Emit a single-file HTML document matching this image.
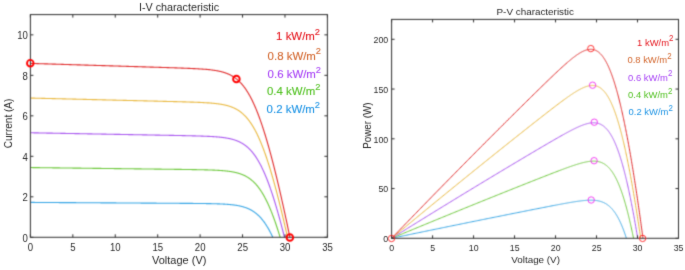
<!DOCTYPE html>
<html><head><meta charset="utf-8"><style>
html,body{margin:0;padding:0;background:#fff;width:685px;height:270px;overflow:hidden}
svg{display:block;font-family:"Liberation Sans",sans-serif}
</style></head><body>
<svg width="685" height="270" viewBox="0 0 685 270">
<defs><filter id="bl" x="0" y="0" width="1" height="1" color-interpolation-filters="sRGB"><feConvolveMatrix order="3" kernelMatrix="0.02778 0.11111 0.02778 0.11111 0.44444 0.11111 0.02778 0.11111 0.02778" edgeMode="duplicate" preserveAlpha="true"/></filter><filter id="bt" x="0" y="0" width="685" height="270" filterUnits="userSpaceOnUse" color-interpolation-filters="sRGB"><feConvolveMatrix order="3" kernelMatrix="0.00937 0.07804 0.00937 0.07804 0.65036 0.07804 0.00937 0.07804 0.00937" edgeMode="none" preserveAlpha="false"/></filter></defs>
<g filter="url(#bl)">
<rect width="685" height="270" fill="#fff"/>
<path d="M30.40,202.40 L31.62,202.40 L32.84,202.41 L34.05,202.42 L35.27,202.43 L36.49,202.43 L37.71,202.44 L38.93,202.45 L40.14,202.46 L41.36,202.46 L42.58,202.47 L43.80,202.48 L45.02,202.49 L46.23,202.49 L47.45,202.50 L48.67,202.51 L49.89,202.52 L51.11,202.52 L52.32,202.53 L53.54,202.54 L54.76,202.55 L55.98,202.55 L57.20,202.56 L58.41,202.57 L59.63,202.58 L60.85,202.58 L62.07,202.59 L63.29,202.60 L64.50,202.61 L65.72,202.61 L66.94,202.62 L68.16,202.63 L69.38,202.64 L70.59,202.64 L71.81,202.65 L73.03,202.66 L74.25,202.67 L75.47,202.67 L76.68,202.68 L77.90,202.69 L79.12,202.70 L80.34,202.70 L81.56,202.71 L82.77,202.72 L83.99,202.73 L85.21,202.73 L86.43,202.74 L87.65,202.75 L88.86,202.76 L90.08,202.76 L91.30,202.77 L92.52,202.78 L93.74,202.79 L94.95,202.79 L96.17,202.80 L97.39,202.81 L98.61,202.82 L99.83,202.82 L101.04,202.83 L102.26,202.84 L103.48,202.85 L104.70,202.85 L105.92,202.86 L107.13,202.87 L108.35,202.88 L109.57,202.88 L110.79,202.89 L112.01,202.90 L113.22,202.91 L114.44,202.91 L115.66,202.92 L116.88,202.93 L118.10,202.94 L119.31,202.94 L120.53,202.95 L121.75,202.96 L122.97,202.97 L124.19,202.97 L125.40,202.98 L126.62,202.99 L127.84,203.00 L129.06,203.00 L130.28,203.01 L131.49,203.02 L132.71,203.03 L133.93,203.03 L135.15,203.04 L136.37,203.05 L137.58,203.06 L138.80,203.06 L140.02,203.07 L141.24,203.08 L142.46,203.09 L143.67,203.09 L144.89,203.10 L146.11,203.11 L147.33,203.12 L148.55,203.12 L149.76,203.13 L150.98,203.14 L152.20,203.15 L153.42,203.15 L154.64,203.16 L155.85,203.17 L157.07,203.18 L158.29,203.18 L159.51,203.19 L160.72,203.20 L161.94,203.21 L163.16,203.22 L164.38,203.22 L165.60,203.23 L166.81,203.24 L168.03,203.25 L169.25,203.25 L170.47,203.26 L171.69,203.27 L172.90,203.28 L174.12,203.29 L175.34,203.29 L176.56,203.30 L177.78,203.31 L178.99,203.32 L180.21,203.33 L181.43,203.34 L182.65,203.34 L183.87,203.35 L185.08,203.36 L186.30,203.37 L187.52,203.38 L188.74,203.39 L189.96,203.40 L191.17,203.41 L192.39,203.42 L193.61,203.43 L194.83,203.44 L196.05,203.45 L197.26,203.47 L198.48,203.48 L199.70,203.49 L200.07,203.50 L200.31,203.50 L200.55,203.50 L200.80,203.51 L200.92,203.51 L201.04,203.51 L201.28,203.51 L201.53,203.51 L201.77,203.52 L202.01,203.52 L202.14,203.52 L202.25,203.52 L202.50,203.53 L202.74,203.53 L202.98,203.53 L203.23,203.54 L203.35,203.54 L203.47,203.54 L203.71,203.54 L203.96,203.55 L204.20,203.55 L204.44,203.55 L204.57,203.56 L204.69,203.56 L204.93,203.56 L205.17,203.56 L205.42,203.57 L205.66,203.57 L205.79,203.57 L205.90,203.57 L206.15,203.58 L206.39,203.58 L206.63,203.59 L206.88,203.59 L207.01,203.59 L207.12,203.59 L207.36,203.60 L207.60,203.60 L207.85,203.61 L208.09,203.61 L208.23,203.61 L208.33,203.61 L208.58,203.62 L208.82,203.62 L209.06,203.63 L209.31,203.63 L209.44,203.64 L209.55,203.64 L209.79,203.64 L210.04,203.65 L210.28,203.65 L210.52,203.66 L210.66,203.66 L210.77,203.66 L211.01,203.67 L211.25,203.67 L211.50,203.68 L211.74,203.68 L211.88,203.69 L211.98,203.69 L212.23,203.69 L212.47,203.70 L212.71,203.70 L212.96,203.71 L213.10,203.71 L213.20,203.72 L213.44,203.72 L213.68,203.73 L213.93,203.73 L214.17,203.74 L214.32,203.74 L214.41,203.75 L214.66,203.75 L214.90,203.76 L215.14,203.77 L215.39,203.77 L215.53,203.78 L215.63,203.78 L215.87,203.79 L216.12,203.80 L216.36,203.80 L216.60,203.81 L216.75,203.81 L216.85,203.82 L217.09,203.83 L217.33,203.83 L217.58,203.84 L217.82,203.85 L217.97,203.86 L218.06,203.86 L218.31,203.87 L218.55,203.88 L218.79,203.88 L219.03,203.89 L219.19,203.90 L219.28,203.90 L219.52,203.91 L219.76,203.92 L220.01,203.93 L220.25,203.94 L220.41,203.95 L220.49,203.95 L220.74,203.96 L220.98,203.97 L221.22,203.98 L221.47,203.99 L221.62,204.00 L221.71,204.01 L221.95,204.02 L222.20,204.03 L222.44,204.04 L222.68,204.05 L222.84,204.06 L222.93,204.06 L223.17,204.08 L223.41,204.09 L223.66,204.10 L223.90,204.12 L224.06,204.13 L224.14,204.13 L224.39,204.14 L224.63,204.16 L224.87,204.17 L225.11,204.19 L225.28,204.20 L225.36,204.20 L225.60,204.22 L225.84,204.23 L226.09,204.25 L226.33,204.27 L226.50,204.28 L226.57,204.28 L226.82,204.30 L227.06,204.32 L227.30,204.34 L227.55,204.35 L227.71,204.37 L227.79,204.37 L228.03,204.39 L228.28,204.41 L228.52,204.43 L228.76,204.45 L228.93,204.46 L229.01,204.47 L229.25,204.49 L229.49,204.51 L229.74,204.53 L229.98,204.56 L230.15,204.57 L230.22,204.58 L230.46,204.60 L230.71,204.63 L230.95,204.65 L231.19,204.68 L231.37,204.69 L231.44,204.70 L231.68,204.73 L231.92,204.75 L232.17,204.78 L232.41,204.81 L232.59,204.83 L232.65,204.83 L232.90,204.86 L233.14,204.89 L233.38,204.92 L233.63,204.95 L233.80,204.98 L233.87,204.98 L234.11,205.02 L234.36,205.05 L234.60,205.08 L234.84,205.12 L235.02,205.14 L235.09,205.15 L235.33,205.19 L235.57,205.22 L235.82,205.26 L236.06,205.30 L236.24,205.32 L236.30,205.33 L236.54,205.37 L236.79,205.41 L237.03,205.45 L237.27,205.50 L237.46,205.53 L237.52,205.54 L237.76,205.58 L238.00,205.63 L238.25,205.67 L238.49,205.72 L238.68,205.75 L238.73,205.77 L238.98,205.81 L239.22,205.86 L239.46,205.91 L239.71,205.96 L239.89,206.01 L239.95,206.02 L240.19,206.07 L240.44,206.13 L240.68,206.18 L240.92,206.24 L241.11,206.28 L241.17,206.30 L241.41,206.36 L241.65,206.42 L241.89,206.48 L242.14,206.54 L242.33,206.59 L242.38,206.61 L242.62,206.67 L242.87,206.74 L243.11,206.81 L243.35,206.88 L243.55,206.94 L243.60,206.95 L243.84,207.02 L244.08,207.10 L244.33,207.17 L244.57,207.25 L244.77,207.32 L244.81,207.33 L245.06,207.41 L245.30,207.50 L245.54,207.58 L245.79,207.67 L245.98,207.74 L246.03,207.75 L246.27,207.84 L246.52,207.93 L246.76,208.03 L247.00,208.12 L247.20,208.20 L247.25,208.22 L247.49,208.32 L247.73,208.42 L247.97,208.52 L248.22,208.63 L248.42,208.72 L248.46,208.74 L248.70,208.85 L248.95,208.96 L249.19,209.07 L249.43,209.19 L249.64,209.29 L249.68,209.31 L249.92,209.43 L250.16,209.55 L250.41,209.67 L250.65,209.80 L250.86,209.91 L250.89,209.93 L251.14,210.07 L251.38,210.20 L251.62,210.34 L251.87,210.48 L252.07,210.60 L252.11,210.62 L252.35,210.77 L252.60,210.92 L252.84,211.07 L253.08,211.23 L253.29,211.36 L253.32,211.38 L253.57,211.54 L253.81,211.71 L254.05,211.87 L254.30,212.04 L254.51,212.20 L254.54,212.22 L254.78,212.39 L255.03,212.57 L255.27,212.76 L255.51,212.94 L255.73,213.11 L255.76,213.13 L256.00,213.32 L256.24,213.52 L256.49,213.72 L256.73,213.92 L256.95,214.11 L256.97,214.13 L257.22,214.34 L257.46,214.55 L257.70,214.77 L257.95,214.99 L258.16,215.20 L258.19,215.22 L258.43,215.45 L258.68,215.68 L258.92,215.92 L259.16,216.16 L259.38,216.38 L259.40,216.40 L259.65,216.65 L259.89,216.91 L260.13,217.17 L260.38,217.43 L260.60,217.67 L260.62,217.69 L260.86,217.96 L261.11,218.24 L261.35,218.52 L261.59,218.80 L261.82,219.07 L261.84,219.09 L262.08,219.38 L262.32,219.68 L262.57,219.98 L262.81,220.29 L263.04,220.58 L263.05,220.60 L263.30,220.92 L263.54,221.24 L263.78,221.56 L264.03,221.89 L264.25,222.21 L264.27,222.23 L264.51,222.57 L264.75,222.92 L265.00,223.27 L265.24,223.62 L265.47,223.96 L265.48,223.98 L265.73,224.35 L265.97,224.72 L266.21,225.10 L266.46,225.48 L266.69,225.85 L266.70,225.86 L266.94,226.26 L267.19,226.65 L267.43,227.05 L267.67,227.46 L267.91,227.86 L267.92,227.88 L268.16,228.29 L268.40,228.72 L268.65,229.15 L268.89,229.58 L269.13,230.01 L269.13,230.02 L269.38,230.47 L269.62,230.92 L269.86,231.38 L270.11,231.84 L270.34,232.30 L270.35,232.31 L270.59,232.78 L270.83,233.26 L271.08,233.75 L271.32,234.24 L271.56,234.73 L271.56,234.73 L271.81,235.23 L272.05,235.74 L272.29,236.26 L272.54,236.78 L272.78,237.30" fill="none" stroke="#35a5e5" stroke-width="1.1"/>
<path d="M30.40,167.56 L31.66,167.57 L32.91,167.59 L34.17,167.60 L35.42,167.62 L36.68,167.63 L37.93,167.65 L39.19,167.66 L40.44,167.68 L41.70,167.69 L42.95,167.71 L44.21,167.73 L45.46,167.74 L46.72,167.76 L47.97,167.77 L49.23,167.79 L50.48,167.80 L51.74,167.82 L52.99,167.83 L54.25,167.85 L55.50,167.86 L56.76,167.88 L58.01,167.89 L59.27,167.91 L60.52,167.93 L61.78,167.94 L63.03,167.96 L64.29,167.97 L65.54,167.99 L66.80,168.00 L68.05,168.02 L69.31,168.03 L70.56,168.05 L71.82,168.06 L73.07,168.08 L74.33,168.10 L75.58,168.11 L76.84,168.13 L78.09,168.14 L79.35,168.16 L80.60,168.17 L81.86,168.19 L83.11,168.20 L84.37,168.22 L85.62,168.23 L86.88,168.25 L88.13,168.26 L89.39,168.28 L90.64,168.30 L91.90,168.31 L93.15,168.33 L94.41,168.34 L95.66,168.36 L96.92,168.37 L98.17,168.39 L99.43,168.40 L100.68,168.42 L101.94,168.43 L103.19,168.45 L104.45,168.47 L105.70,168.48 L106.96,168.50 L108.21,168.51 L109.47,168.53 L110.72,168.54 L111.98,168.56 L113.23,168.57 L114.49,168.59 L115.74,168.60 L117.00,168.62 L118.25,168.64 L119.51,168.65 L120.76,168.67 L122.02,168.68 L123.27,168.70 L124.53,168.71 L125.78,168.73 L127.04,168.74 L128.29,168.76 L129.55,168.77 L130.80,168.79 L132.06,168.80 L133.31,168.82 L134.57,168.84 L135.82,168.85 L137.08,168.87 L138.33,168.88 L139.59,168.90 L140.84,168.91 L142.10,168.93 L143.35,168.94 L144.61,168.96 L145.86,168.97 L147.12,168.99 L148.37,169.01 L149.63,169.02 L150.88,169.04 L152.14,169.05 L153.39,169.07 L154.65,169.08 L155.90,169.10 L157.16,169.11 L158.41,169.13 L159.67,169.15 L160.92,169.16 L162.18,169.18 L163.43,169.19 L164.69,169.21 L165.94,169.22 L167.20,169.24 L168.45,169.26 L169.71,169.27 L170.96,169.29 L172.22,169.30 L173.47,169.32 L174.73,169.34 L175.98,169.35 L177.24,169.37 L178.49,169.39 L179.75,169.40 L181.00,169.42 L182.26,169.44 L183.51,169.46 L184.77,169.47 L186.02,169.49 L187.28,169.51 L188.53,169.53 L189.79,169.55 L191.04,169.57 L192.30,169.59 L193.55,169.61 L194.81,169.63 L196.06,169.65 L197.32,169.68 L198.57,169.70 L199.83,169.72 L201.08,169.75 L202.34,169.78 L203.59,169.81 L204.85,169.84 L205.22,169.85 L205.47,169.86 L205.73,169.86 L205.98,169.87 L206.10,169.87 L206.23,169.88 L206.48,169.88 L206.73,169.89 L206.98,169.90 L207.23,169.90 L207.36,169.91 L207.48,169.91 L207.73,169.92 L207.98,169.93 L208.23,169.93 L208.48,169.94 L208.61,169.94 L208.73,169.95 L208.98,169.96 L209.23,169.96 L209.48,169.97 L209.73,169.98 L209.87,169.98 L209.99,169.99 L210.24,170.00 L210.49,170.01 L210.74,170.01 L210.99,170.02 L211.12,170.03 L211.24,170.03 L211.49,170.04 L211.74,170.05 L211.99,170.06 L212.24,170.07 L212.38,170.07 L212.49,170.08 L212.74,170.09 L212.99,170.10 L213.24,170.11 L213.49,170.12 L213.63,170.13 L213.74,170.13 L213.99,170.14 L214.25,170.15 L214.50,170.16 L214.75,170.17 L214.89,170.18 L215.00,170.19 L215.25,170.20 L215.50,170.21 L215.75,170.22 L216.00,170.23 L216.14,170.24 L216.25,170.25 L216.50,170.26 L216.75,170.27 L217.00,170.28 L217.25,170.30 L217.40,170.31 L217.50,170.31 L217.75,170.33 L218.00,170.34 L218.25,170.35 L218.51,170.37 L218.65,170.38 L218.76,170.38 L219.01,170.40 L219.26,170.41 L219.51,170.43 L219.76,170.45 L219.91,170.46 L220.01,170.46 L220.26,170.48 L220.51,170.50 L220.76,170.51 L221.01,170.53 L221.16,170.54 L221.26,170.55 L221.51,170.57 L221.76,170.59 L222.01,170.61 L222.26,170.62 L222.42,170.64 L222.51,170.64 L222.76,170.66 L223.02,170.69 L223.27,170.71 L223.52,170.73 L223.67,170.74 L223.77,170.75 L224.02,170.77 L224.27,170.79 L224.52,170.82 L224.77,170.84 L224.93,170.86 L225.02,170.87 L225.27,170.89 L225.52,170.92 L225.77,170.94 L226.02,170.97 L226.18,170.98 L226.27,170.99 L226.52,171.02 L226.77,171.05 L227.02,171.08 L227.28,171.11 L227.44,171.13 L227.53,171.14 L227.78,171.17 L228.03,171.20 L228.28,171.23 L228.53,171.26 L228.69,171.28 L228.78,171.29 L229.03,171.33 L229.28,171.36 L229.53,171.40 L229.78,171.43 L229.95,171.46 L230.03,171.47 L230.28,171.51 L230.53,171.54 L230.78,171.58 L231.03,171.62 L231.20,171.65 L231.28,171.66 L231.54,171.70 L231.79,171.74 L232.04,171.79 L232.29,171.83 L232.46,171.86 L232.54,171.88 L232.79,171.92 L233.04,171.97 L233.29,172.02 L233.54,172.06 L233.71,172.10 L233.79,172.11 L234.04,172.16 L234.29,172.22 L234.54,172.27 L234.79,172.32 L234.97,172.36 L235.04,172.38 L235.29,172.43 L235.54,172.49 L235.80,172.55 L236.05,172.61 L236.22,172.65 L236.30,172.67 L236.55,172.73 L236.80,172.80 L237.05,172.86 L237.30,172.93 L237.48,172.98 L237.55,173.00 L237.80,173.07 L238.05,173.14 L238.30,173.21 L238.55,173.28 L238.73,173.34 L238.80,173.36 L239.05,173.44 L239.30,173.51 L239.55,173.59 L239.80,173.68 L239.99,173.74 L240.06,173.76 L240.31,173.84 L240.56,173.93 L240.81,174.02 L241.06,174.11 L241.24,174.18 L241.31,174.20 L241.56,174.30 L241.81,174.39 L242.06,174.49 L242.31,174.59 L242.50,174.67 L242.56,174.69 L242.81,174.80 L243.06,174.91 L243.31,175.01 L243.56,175.13 L243.75,175.21 L243.81,175.24 L244.06,175.35 L244.32,175.47 L244.57,175.59 L244.82,175.71 L245.01,175.81 L245.07,175.84 L245.32,175.97 L245.57,176.10 L245.82,176.23 L246.07,176.37 L246.26,176.47 L246.32,176.50 L246.57,176.64 L246.82,176.79 L247.07,176.93 L247.32,177.08 L247.52,177.20 L247.57,177.24 L247.82,177.39 L248.07,177.55 L248.32,177.71 L248.58,177.87 L248.77,178.01 L248.83,178.04 L249.08,178.21 L249.33,178.39 L249.58,178.56 L249.83,178.74 L250.03,178.89 L250.08,178.93 L250.33,179.11 L250.58,179.31 L250.83,179.50 L251.08,179.70 L251.28,179.86 L251.33,179.90 L251.58,180.10 L251.83,180.31 L252.08,180.53 L252.33,180.74 L252.54,180.92 L252.58,180.96 L252.84,181.19 L253.09,181.42 L253.34,181.65 L253.59,181.88 L253.79,182.08 L253.84,182.13 L254.09,182.37 L254.34,182.62 L254.59,182.87 L254.84,183.13 L255.05,183.35 L255.09,183.39 L255.34,183.66 L255.59,183.93 L255.84,184.21 L256.09,184.49 L256.30,184.73 L256.34,184.77 L256.59,185.06 L256.84,185.35 L257.09,185.65 L257.35,185.96 L257.56,186.22 L257.60,186.27 L257.85,186.58 L258.10,186.90 L258.35,187.22 L258.60,187.55 L258.81,187.84 L258.85,187.88 L259.10,188.22 L259.35,188.57 L259.60,188.92 L259.85,189.27 L260.07,189.58 L260.10,189.63 L260.35,189.99 L260.60,190.37 L260.85,190.74 L261.10,191.12 L261.32,191.46 L261.35,191.51 L261.61,191.90 L261.86,192.30 L262.11,192.70 L262.36,193.11 L262.58,193.48 L262.61,193.53 L262.86,193.95 L263.11,194.37 L263.36,194.80 L263.61,195.24 L263.83,195.64 L263.86,195.68 L264.11,196.13 L264.36,196.59 L264.61,197.05 L264.86,197.52 L265.09,197.94 L265.11,197.99 L265.36,198.47 L265.61,198.95 L265.87,199.44 L266.12,199.94 L266.34,200.39 L266.37,200.44 L266.62,200.95 L266.87,201.46 L267.12,201.98 L267.37,202.51 L267.60,203.00 L267.62,203.04 L267.87,203.58 L268.12,204.12 L268.37,204.67 L268.62,205.23 L268.85,205.75 L268.87,205.79 L269.12,206.36 L269.37,206.94 L269.62,207.52 L269.87,208.10 L270.11,208.66 L270.13,208.70 L270.38,209.30 L270.63,209.90 L270.88,210.51 L271.13,211.13 L271.36,211.72 L271.38,211.75 L271.63,212.38 L271.88,213.02 L272.13,213.66 L272.38,214.31 L272.62,214.93 L272.63,214.96 L272.88,215.62 L273.13,216.29 L273.38,216.96 L273.63,217.64 L273.87,218.29 L273.88,218.32 L274.13,219.01 L274.39,219.71 L274.64,220.41 L274.89,221.11 L275.13,221.80 L275.14,221.83 L275.39,222.55 L275.64,223.27 L275.89,224.00 L276.14,224.74 L276.38,225.46 L276.39,225.48 L276.64,226.23 L276.89,226.98 L277.14,227.74 L277.39,228.51 L277.64,229.27 L277.64,229.28 L277.89,230.06 L278.14,230.84 L278.39,231.63 L278.65,232.42 L278.89,233.21 L278.90,233.22 L279.15,234.03 L279.40,234.84 L279.65,235.65 L279.90,236.47 L280.15,237.30" fill="none" stroke="#6cc83a" stroke-width="1.1"/>
<path d="M30.40,132.78 L31.68,132.80 L32.95,132.82 L34.23,132.85 L35.51,132.87 L36.78,132.89 L38.06,132.92 L39.34,132.94 L40.61,132.96 L41.89,132.99 L43.17,133.01 L44.44,133.03 L45.72,133.06 L47.00,133.08 L48.27,133.10 L49.55,133.13 L50.83,133.15 L52.10,133.17 L53.38,133.20 L54.66,133.22 L55.93,133.25 L57.21,133.27 L58.49,133.29 L59.76,133.32 L61.04,133.34 L62.32,133.36 L63.59,133.39 L64.87,133.41 L66.15,133.43 L67.42,133.46 L68.70,133.48 L69.98,133.50 L71.25,133.53 L72.53,133.55 L73.81,133.57 L75.08,133.60 L76.36,133.62 L77.64,133.65 L78.91,133.67 L80.19,133.69 L81.47,133.72 L82.74,133.74 L84.02,133.76 L85.30,133.79 L86.57,133.81 L87.85,133.83 L89.13,133.86 L90.40,133.88 L91.68,133.90 L92.96,133.93 L94.23,133.95 L95.51,133.97 L96.79,134.00 L98.06,134.02 L99.34,134.04 L100.62,134.07 L101.89,134.09 L103.17,134.12 L104.45,134.14 L105.72,134.16 L107.00,134.19 L108.28,134.21 L109.55,134.23 L110.83,134.26 L112.11,134.28 L113.38,134.30 L114.66,134.33 L115.94,134.35 L117.21,134.37 L118.49,134.40 L119.77,134.42 L121.04,134.44 L122.32,134.47 L123.60,134.49 L124.87,134.51 L126.15,134.54 L127.43,134.56 L128.70,134.59 L129.98,134.61 L131.26,134.63 L132.53,134.66 L133.81,134.68 L135.09,134.70 L136.36,134.73 L137.64,134.75 L138.92,134.77 L140.19,134.80 L141.47,134.82 L142.75,134.84 L144.02,134.87 L145.30,134.89 L146.58,134.92 L147.85,134.94 L149.13,134.96 L150.41,134.99 L151.68,135.01 L152.96,135.03 L154.24,135.06 L155.51,135.08 L156.79,135.10 L158.07,135.13 L159.34,135.15 L160.62,135.18 L161.90,135.20 L163.17,135.22 L164.45,135.25 L165.73,135.27 L167.00,135.30 L168.28,135.32 L169.56,135.35 L170.83,135.37 L172.11,135.39 L173.39,135.42 L174.66,135.44 L175.94,135.47 L177.22,135.50 L178.49,135.52 L179.77,135.55 L181.05,135.57 L182.32,135.60 L183.60,135.63 L184.88,135.65 L186.15,135.68 L187.43,135.71 L188.71,135.74 L189.98,135.77 L191.26,135.80 L192.54,135.83 L193.81,135.86 L195.09,135.90 L196.37,135.93 L197.64,135.97 L198.92,136.00 L200.20,136.04 L201.47,136.09 L202.75,136.13 L204.03,136.18 L205.30,136.23 L206.58,136.28 L207.86,136.33 L208.24,136.35 L208.50,136.36 L208.75,136.38 L209.01,136.39 L209.13,136.39 L209.26,136.40 L209.52,136.41 L209.77,136.43 L210.03,136.44 L210.28,136.45 L210.41,136.46 L210.54,136.47 L210.79,136.48 L211.05,136.49 L211.30,136.51 L211.56,136.52 L211.69,136.53 L211.81,136.54 L212.06,136.55 L212.32,136.57 L212.57,136.58 L212.83,136.60 L212.97,136.61 L213.08,136.61 L213.34,136.63 L213.59,136.65 L213.85,136.66 L214.10,136.68 L214.24,136.69 L214.36,136.70 L214.61,136.71 L214.87,136.73 L215.12,136.75 L215.38,136.77 L215.52,136.78 L215.63,136.79 L215.89,136.81 L216.14,136.83 L216.40,136.85 L216.65,136.87 L216.80,136.88 L216.91,136.89 L217.16,136.91 L217.42,136.93 L217.67,136.95 L217.93,136.97 L218.07,136.98 L218.18,136.99 L218.44,137.02 L218.69,137.04 L218.95,137.06 L219.20,137.09 L219.35,137.10 L219.46,137.11 L219.71,137.14 L219.97,137.16 L220.22,137.19 L220.48,137.22 L220.63,137.23 L220.73,137.24 L220.99,137.27 L221.24,137.30 L221.50,137.33 L221.75,137.36 L221.90,137.38 L222.01,137.39 L222.26,137.42 L222.52,137.45 L222.77,137.48 L223.03,137.51 L223.18,137.53 L223.28,137.55 L223.54,137.58 L223.79,137.61 L224.05,137.65 L224.30,137.69 L224.46,137.71 L224.56,137.72 L224.81,137.76 L225.07,137.80 L225.32,137.84 L225.58,137.88 L225.73,137.90 L225.83,137.92 L226.08,137.96 L226.34,138.00 L226.59,138.04 L226.85,138.09 L227.01,138.11 L227.10,138.13 L227.36,138.18 L227.61,138.22 L227.87,138.27 L228.12,138.32 L228.29,138.35 L228.38,138.37 L228.63,138.42 L228.89,138.47 L229.14,138.52 L229.40,138.58 L229.56,138.61 L229.65,138.63 L229.91,138.69 L230.16,138.74 L230.42,138.80 L230.67,138.86 L230.84,138.90 L230.93,138.92 L231.18,138.99 L231.44,139.05 L231.69,139.11 L231.95,139.18 L232.12,139.22 L232.20,139.25 L232.46,139.32 L232.71,139.39 L232.97,139.46 L233.22,139.53 L233.39,139.58 L233.48,139.61 L233.73,139.68 L233.99,139.76 L234.24,139.84 L234.50,139.92 L234.67,139.98 L234.75,140.00 L235.01,140.09 L235.26,140.17 L235.52,140.26 L235.77,140.35 L235.95,140.41 L236.03,140.44 L236.28,140.54 L236.54,140.63 L236.79,140.73 L237.05,140.83 L237.22,140.90 L237.30,140.93 L237.56,141.04 L237.81,141.14 L238.07,141.25 L238.32,141.36 L238.50,141.44 L238.58,141.47 L238.83,141.59 L239.09,141.71 L239.34,141.83 L239.60,141.95 L239.78,142.03 L239.85,142.07 L240.10,142.20 L240.36,142.33 L240.61,142.46 L240.87,142.59 L241.05,142.69 L241.12,142.73 L241.38,142.87 L241.63,143.02 L241.89,143.16 L242.14,143.31 L242.33,143.42 L242.40,143.46 L242.65,143.62 L242.91,143.77 L243.16,143.93 L243.42,144.10 L243.61,144.22 L243.67,144.27 L243.93,144.44 L244.18,144.61 L244.44,144.79 L244.69,144.97 L244.88,145.10 L244.95,145.15 L245.20,145.34 L245.46,145.53 L245.71,145.72 L245.97,145.92 L246.16,146.07 L246.22,146.12 L246.48,146.33 L246.73,146.53 L246.99,146.75 L247.24,146.96 L247.44,147.13 L247.50,147.19 L247.75,147.41 L248.01,147.64 L248.26,147.87 L248.52,148.11 L248.71,148.29 L248.77,148.35 L249.03,148.60 L249.28,148.85 L249.54,149.10 L249.79,149.36 L249.99,149.56 L250.05,149.62 L250.30,149.89 L250.56,150.16 L250.81,150.44 L251.07,150.72 L251.27,150.94 L251.32,151.01 L251.58,151.30 L251.83,151.59 L252.09,151.90 L252.34,152.20 L252.54,152.45 L252.60,152.51 L252.85,152.83 L253.11,153.15 L253.36,153.47 L253.62,153.81 L253.82,154.07 L253.87,154.14 L254.12,154.48 L254.38,154.83 L254.63,155.18 L254.89,155.54 L255.10,155.83 L255.14,155.90 L255.40,156.27 L255.65,156.65 L255.91,157.03 L256.16,157.41 L256.37,157.73 L256.42,157.80 L256.67,158.20 L256.93,158.60 L257.18,159.01 L257.44,159.42 L257.65,159.77 L257.69,159.84 L257.95,160.27 L258.20,160.70 L258.46,161.14 L258.71,161.58 L258.93,161.95 L258.97,162.03 L259.22,162.49 L259.48,162.95 L259.73,163.41 L259.99,163.89 L260.20,164.29 L260.24,164.37 L260.50,164.85 L260.75,165.34 L261.01,165.84 L261.26,166.34 L261.48,166.78 L261.52,166.85 L261.77,167.37 L262.03,167.89 L262.28,168.42 L262.54,168.96 L262.76,169.42 L262.79,169.50 L263.05,170.04 L263.30,170.60 L263.56,171.16 L263.81,171.72 L264.03,172.22 L264.07,172.30 L264.32,172.88 L264.58,173.46 L264.83,174.05 L265.09,174.65 L265.31,175.18 L265.34,175.25 L265.60,175.86 L265.85,176.48 L266.11,177.10 L266.36,177.73 L266.59,178.29 L266.62,178.37 L266.87,179.01 L267.13,179.65 L267.38,180.31 L267.64,180.97 L267.86,181.56 L267.89,181.64 L268.14,182.31 L268.40,182.99 L268.65,183.67 L268.91,184.36 L269.14,184.99 L269.16,185.06 L269.42,185.76 L269.67,186.47 L269.93,187.19 L270.18,187.91 L270.42,188.57 L270.44,188.64 L270.69,189.37 L270.95,190.11 L271.20,190.86 L271.46,191.61 L271.69,192.31 L271.71,192.37 L271.97,193.13 L272.22,193.90 L272.48,194.68 L272.73,195.46 L272.97,196.19 L272.99,196.25 L273.24,197.04 L273.50,197.84 L273.75,198.65 L274.01,199.46 L274.25,200.22 L274.26,200.28 L274.52,201.10 L274.77,201.93 L275.03,202.76 L275.28,203.60 L275.52,204.39 L275.54,204.44 L275.79,205.30 L276.05,206.15 L276.30,207.01 L276.56,207.88 L276.80,208.71 L276.81,208.75 L277.07,209.63 L277.32,210.51 L277.58,211.40 L277.83,212.30 L278.08,213.16 L278.09,213.20 L278.34,214.10 L278.60,215.01 L278.85,215.92 L279.11,216.84 L279.35,217.74 L279.36,217.77 L279.62,218.70 L279.87,219.64 L280.13,220.58 L280.38,221.52 L280.63,222.45 L280.64,222.47 L280.89,223.43 L281.15,224.39 L281.40,225.35 L281.65,226.32 L281.91,227.28 L281.91,227.30 L282.16,228.28 L282.42,229.26 L282.67,230.25 L282.93,231.24 L283.18,232.23 L283.18,232.24 L283.44,233.24 L283.69,234.25 L283.95,235.26 L284.20,236.28 L284.46,237.30" fill="none" stroke="#a855f0" stroke-width="1.1"/>
<path d="M30.40,98.06 L31.69,98.09 L32.98,98.12 L34.28,98.15 L35.57,98.18 L36.86,98.21 L38.15,98.25 L39.44,98.28 L40.74,98.31 L42.03,98.34 L43.32,98.37 L44.61,98.40 L45.90,98.44 L47.20,98.47 L48.49,98.50 L49.78,98.53 L51.07,98.56 L52.36,98.59 L53.66,98.63 L54.95,98.66 L56.24,98.69 L57.53,98.72 L58.83,98.75 L60.12,98.78 L61.41,98.82 L62.70,98.85 L63.99,98.88 L65.29,98.91 L66.58,98.94 L67.87,98.97 L69.16,99.01 L70.45,99.04 L71.75,99.07 L73.04,99.10 L74.33,99.13 L75.62,99.17 L76.91,99.20 L78.21,99.23 L79.50,99.26 L80.79,99.29 L82.08,99.32 L83.37,99.36 L84.67,99.39 L85.96,99.42 L87.25,99.45 L88.54,99.48 L89.83,99.51 L91.13,99.55 L92.42,99.58 L93.71,99.61 L95.00,99.64 L96.29,99.67 L97.59,99.70 L98.88,99.74 L100.17,99.77 L101.46,99.80 L102.75,99.83 L104.05,99.86 L105.34,99.89 L106.63,99.93 L107.92,99.96 L109.21,99.99 L110.51,100.02 L111.80,100.05 L113.09,100.08 L114.38,100.12 L115.68,100.15 L116.97,100.18 L118.26,100.21 L119.55,100.24 L120.84,100.27 L122.14,100.31 L123.43,100.34 L124.72,100.37 L126.01,100.40 L127.30,100.43 L128.60,100.46 L129.89,100.50 L131.18,100.53 L132.47,100.56 L133.76,100.59 L135.06,100.62 L136.35,100.66 L137.64,100.69 L138.93,100.72 L140.22,100.75 L141.52,100.78 L142.81,100.81 L144.10,100.85 L145.39,100.88 L146.68,100.91 L147.98,100.94 L149.27,100.97 L150.56,101.01 L151.85,101.04 L153.14,101.07 L154.44,101.10 L155.73,101.13 L157.02,101.17 L158.31,101.20 L159.60,101.23 L160.90,101.26 L162.19,101.29 L163.48,101.33 L164.77,101.36 L166.06,101.39 L167.36,101.43 L168.65,101.46 L169.94,101.49 L171.23,101.53 L172.53,101.56 L173.82,101.59 L175.11,101.63 L176.40,101.66 L177.69,101.70 L178.99,101.73 L180.28,101.77 L181.57,101.80 L182.86,101.84 L184.15,101.88 L185.45,101.92 L186.74,101.95 L188.03,101.99 L189.32,102.03 L190.61,102.08 L191.91,102.12 L193.20,102.17 L194.49,102.21 L195.78,102.26 L197.07,102.31 L198.37,102.36 L199.66,102.42 L200.95,102.48 L202.24,102.54 L203.53,102.61 L204.83,102.68 L206.12,102.75 L207.41,102.84 L208.70,102.92 L209.99,103.02 L210.38,103.05 L210.64,103.07 L210.90,103.09 L211.16,103.11 L211.29,103.12 L211.41,103.13 L211.67,103.15 L211.93,103.17 L212.19,103.20 L212.45,103.22 L212.58,103.23 L212.70,103.24 L212.96,103.27 L213.22,103.29 L213.48,103.32 L213.74,103.34 L213.87,103.35 L213.99,103.37 L214.25,103.39 L214.51,103.42 L214.77,103.44 L215.03,103.47 L215.16,103.49 L215.28,103.50 L215.54,103.53 L215.80,103.56 L216.06,103.59 L216.32,103.62 L216.45,103.63 L216.57,103.65 L216.83,103.68 L217.09,103.71 L217.35,103.74 L217.61,103.77 L217.75,103.79 L217.86,103.81 L218.12,103.84 L218.38,103.88 L218.64,103.91 L218.90,103.95 L219.04,103.97 L219.15,103.98 L219.41,104.02 L219.67,104.06 L219.93,104.10 L220.19,104.14 L220.33,104.16 L220.44,104.18 L220.70,104.22 L220.96,104.26 L221.22,104.31 L221.48,104.35 L221.62,104.37 L221.73,104.39 L221.99,104.44 L222.25,104.49 L222.51,104.53 L222.76,104.58 L222.91,104.61 L223.02,104.63 L223.28,104.68 L223.54,104.73 L223.80,104.79 L224.05,104.84 L224.21,104.87 L224.31,104.89 L224.57,104.95 L224.83,105.01 L225.09,105.06 L225.34,105.12 L225.50,105.16 L225.60,105.18 L225.86,105.25 L226.12,105.31 L226.38,105.37 L226.63,105.44 L226.79,105.48 L226.89,105.51 L227.15,105.57 L227.41,105.64 L227.67,105.72 L227.92,105.79 L228.08,105.83 L228.18,105.86 L228.44,105.94 L228.70,106.01 L228.96,106.09 L229.21,106.17 L229.38,106.23 L229.47,106.26 L229.73,106.34 L229.99,106.43 L230.25,106.51 L230.50,106.60 L230.67,106.66 L230.76,106.69 L231.02,106.79 L231.28,106.88 L231.54,106.98 L231.79,107.08 L231.96,107.14 L232.05,107.18 L232.31,107.28 L232.57,107.38 L232.83,107.49 L233.08,107.60 L233.25,107.67 L233.34,107.71 L233.60,107.83 L233.86,107.94 L234.12,108.06 L234.37,108.18 L234.54,108.26 L234.63,108.30 L234.89,108.43 L235.15,108.56 L235.41,108.69 L235.66,108.82 L235.84,108.91 L235.92,108.96 L236.18,109.10 L236.44,109.24 L236.70,109.38 L236.95,109.53 L237.13,109.63 L237.21,109.68 L237.47,109.83 L237.73,109.99 L237.99,110.15 L238.24,110.31 L238.42,110.43 L238.50,110.48 L238.76,110.65 L239.02,110.82 L239.28,110.99 L239.53,111.17 L239.71,111.30 L239.79,111.36 L240.05,111.54 L240.31,111.73 L240.57,111.92 L240.82,112.12 L241.00,112.26 L241.08,112.32 L241.34,112.52 L241.60,112.73 L241.86,112.94 L242.11,113.16 L242.30,113.31 L242.37,113.38 L242.63,113.60 L242.89,113.83 L243.15,114.06 L243.40,114.30 L243.59,114.47 L243.66,114.54 L243.92,114.78 L244.18,115.03 L244.44,115.28 L244.69,115.54 L244.88,115.73 L244.95,115.80 L245.21,116.07 L245.47,116.34 L245.72,116.62 L245.98,116.90 L246.17,117.10 L246.24,117.18 L246.50,117.47 L246.76,117.77 L247.01,118.07 L247.27,118.37 L247.46,118.60 L247.53,118.68 L247.79,119.00 L248.05,119.32 L248.30,119.64 L248.56,119.97 L248.76,120.23 L248.82,120.31 L249.08,120.65 L249.34,121.00 L249.59,121.35 L249.85,121.71 L250.05,121.98 L250.11,122.07 L250.37,122.44 L250.63,122.81 L250.88,123.19 L251.14,123.58 L251.34,123.88 L251.40,123.97 L251.66,124.37 L251.92,124.77 L252.17,125.18 L252.43,125.60 L252.63,125.92 L252.69,126.02 L252.95,126.44 L253.21,126.88 L253.46,127.31 L253.72,127.76 L253.92,128.11 L253.98,128.21 L254.24,128.67 L254.50,129.13 L254.75,129.60 L255.01,130.07 L255.22,130.45 L255.27,130.55 L255.53,131.04 L255.79,131.53 L256.04,132.03 L256.30,132.54 L256.51,132.95 L256.56,133.05 L256.82,133.57 L257.08,134.10 L257.33,134.63 L257.59,135.17 L257.80,135.61 L257.85,135.71 L258.11,136.26 L258.37,136.82 L258.62,137.38 L258.88,137.95 L259.09,138.42 L259.14,138.53 L259.40,139.11 L259.66,139.70 L259.91,140.30 L260.17,140.90 L260.38,141.40 L260.43,141.51 L260.69,142.12 L260.95,142.74 L261.20,143.37 L261.46,144.00 L261.68,144.54 L261.72,144.65 L261.98,145.29 L262.24,145.95 L262.49,146.61 L262.75,147.27 L262.97,147.84 L263.01,147.94 L263.27,148.62 L263.53,149.31 L263.78,150.00 L264.04,150.70 L264.26,151.30 L264.30,151.40 L264.56,152.11 L264.82,152.83 L265.07,153.55 L265.33,154.28 L265.55,154.91 L265.59,155.02 L265.85,155.76 L266.11,156.51 L266.36,157.26 L266.62,158.02 L266.84,158.68 L266.88,158.79 L267.14,159.56 L267.39,160.34 L267.65,161.12 L267.91,161.91 L268.14,162.61 L268.17,162.71 L268.43,163.51 L268.68,164.32 L268.94,165.14 L269.20,165.96 L269.43,166.69 L269.46,166.78 L269.72,167.62 L269.97,168.45 L270.23,169.30 L270.49,170.15 L270.72,170.91 L270.75,171.00 L271.01,171.86 L271.26,172.73 L271.52,173.60 L271.78,174.48 L272.01,175.27 L272.04,175.36 L272.30,176.25 L272.55,177.15 L272.81,178.05 L273.07,178.95 L273.30,179.78 L273.33,179.86 L273.59,180.78 L273.84,181.70 L274.10,182.63 L274.36,183.56 L274.60,184.42 L274.62,184.50 L274.88,185.44 L275.13,186.39 L275.39,187.34 L275.65,188.30 L275.89,189.19 L275.91,189.26 L276.17,190.23 L276.42,191.20 L276.68,192.18 L276.94,193.16 L277.18,194.08 L277.20,194.15 L277.46,195.14 L277.71,196.14 L277.97,197.14 L278.23,198.15 L278.47,199.10 L278.49,199.16 L278.75,200.18 L279.00,201.20 L279.26,202.22 L279.52,203.26 L279.76,204.24 L279.78,204.29 L280.04,205.33 L280.29,206.37 L280.55,207.42 L280.81,208.48 L281.06,209.49 L281.07,209.53 L281.33,210.59 L281.58,211.66 L281.84,212.73 L282.10,213.81 L282.35,214.85 L282.36,214.88 L282.62,215.97 L282.87,217.05 L283.13,218.15 L283.39,219.24 L283.64,220.31 L283.65,220.34 L283.91,221.44 L284.16,222.55 L284.42,223.66 L284.68,224.78 L284.93,225.88 L284.94,225.90 L285.20,227.02 L285.45,228.15 L285.71,229.28 L285.97,230.41 L286.23,231.54 L286.23,231.55 L286.49,232.69 L286.74,233.84 L287.00,234.99 L287.26,236.14 L287.52,237.30" fill="none" stroke="#e9b83e" stroke-width="1.1"/>
<path d="M30.40,63.40 L31.70,63.44 L33.01,63.48 L34.31,63.52 L35.62,63.56 L36.92,63.60 L38.22,63.64 L39.53,63.68 L40.83,63.72 L42.14,63.76 L43.44,63.80 L44.74,63.84 L46.05,63.88 L47.35,63.92 L48.66,63.96 L49.96,64.00 L51.26,64.04 L52.57,64.08 L53.87,64.12 L55.18,64.16 L56.48,64.20 L57.78,64.24 L59.09,64.28 L60.39,64.32 L61.70,64.36 L63.00,64.40 L64.30,64.44 L65.61,64.48 L66.91,64.52 L68.22,64.56 L69.52,64.60 L70.82,64.64 L72.13,64.68 L73.43,64.72 L74.73,64.76 L76.04,64.80 L77.34,64.84 L78.65,64.88 L79.95,64.92 L81.25,64.96 L82.56,65.00 L83.86,65.04 L85.17,65.08 L86.47,65.11 L87.77,65.15 L89.08,65.19 L90.38,65.23 L91.69,65.27 L92.99,65.31 L94.29,65.35 L95.60,65.39 L96.90,65.43 L98.21,65.47 L99.51,65.51 L100.81,65.55 L102.12,65.59 L103.42,65.63 L104.73,65.67 L106.03,65.71 L107.33,65.75 L108.64,65.79 L109.94,65.83 L111.25,65.87 L112.55,65.91 L113.85,65.95 L115.16,65.99 L116.46,66.03 L117.77,66.07 L119.07,66.11 L120.37,66.15 L121.68,66.19 L122.98,66.23 L124.29,66.27 L125.59,66.31 L126.89,66.35 L128.20,66.39 L129.50,66.43 L130.81,66.47 L132.11,66.51 L133.41,66.55 L134.72,66.59 L136.02,66.63 L137.33,66.67 L138.63,66.71 L139.93,66.75 L141.24,66.79 L142.54,66.83 L143.85,66.87 L145.15,66.91 L146.45,66.95 L147.76,66.99 L149.06,67.04 L150.36,67.08 L151.67,67.12 L152.97,67.16 L154.28,67.20 L155.58,67.24 L156.88,67.28 L158.19,67.32 L159.49,67.36 L160.80,67.40 L162.10,67.44 L163.40,67.48 L164.71,67.52 L166.01,67.57 L167.32,67.61 L168.62,67.65 L169.92,67.69 L171.23,67.73 L172.53,67.78 L173.84,67.82 L175.14,67.86 L176.44,67.91 L177.75,67.95 L179.05,68.00 L180.36,68.05 L181.66,68.09 L182.96,68.14 L184.27,68.19 L185.57,68.24 L186.88,68.29 L188.18,68.34 L189.48,68.40 L190.79,68.46 L192.09,68.51 L193.40,68.58 L194.70,68.64 L196.00,68.71 L197.31,68.78 L198.61,68.85 L199.92,68.93 L201.22,69.02 L202.52,69.10 L203.83,69.20 L205.13,69.30 L206.44,69.41 L207.74,69.53 L209.04,69.67 L210.35,69.81 L211.65,69.96 L212.04,70.01 L212.30,70.04 L212.56,70.08 L212.82,70.11 L212.96,70.13 L213.08,70.15 L213.34,70.18 L213.60,70.22 L213.87,70.26 L214.13,70.30 L214.26,70.32 L214.39,70.34 L214.65,70.38 L214.91,70.42 L215.17,70.46 L215.43,70.50 L215.56,70.52 L215.69,70.54 L215.95,70.58 L216.21,70.63 L216.47,70.67 L216.73,70.72 L216.87,70.74 L216.99,70.77 L217.25,70.81 L217.51,70.86 L217.77,70.91 L218.03,70.96 L218.17,70.99 L218.29,71.01 L218.55,71.07 L218.81,71.12 L219.07,71.18 L219.33,71.23 L219.48,71.26 L219.59,71.29 L219.85,71.35 L220.11,71.41 L220.37,71.47 L220.63,71.53 L220.78,71.56 L220.89,71.59 L221.16,71.66 L221.42,71.72 L221.68,71.79 L221.94,71.86 L222.08,71.90 L222.20,71.93 L222.46,72.00 L222.72,72.07 L222.98,72.14 L223.24,72.22 L223.39,72.26 L223.50,72.30 L223.76,72.38 L224.02,72.46 L224.28,72.54 L224.54,72.62 L224.69,72.67 L224.80,72.71 L225.06,72.79 L225.32,72.88 L225.58,72.97 L225.84,73.06 L225.99,73.12 L226.10,73.16 L226.36,73.26 L226.62,73.35 L226.88,73.45 L227.14,73.56 L227.30,73.62 L227.40,73.66 L227.66,73.77 L227.92,73.87 L228.18,73.99 L228.45,74.10 L228.60,74.17 L228.71,74.21 L228.97,74.33 L229.23,74.45 L229.49,74.57 L229.75,74.70 L229.91,74.78 L230.01,74.83 L230.27,74.96 L230.53,75.09 L230.79,75.22 L231.05,75.36 L231.21,75.45 L231.31,75.50 L231.57,75.65 L231.83,75.79 L232.09,75.94 L232.35,76.09 L232.51,76.19 L232.61,76.25 L232.87,76.41 L233.13,76.57 L233.39,76.73 L233.65,76.90 L233.82,77.01 L233.91,77.07 L234.17,77.25 L234.43,77.42 L234.69,77.61 L234.95,77.79 L235.12,77.91 L235.21,77.98 L235.47,78.17 L235.74,78.36 L236.00,78.56 L236.26,78.77 L236.43,78.90 L236.52,78.97 L236.78,79.18 L237.04,79.40 L237.30,79.62 L237.56,79.84 L237.73,79.99 L237.82,80.06 L238.08,80.30 L238.34,80.53 L238.60,80.77 L238.86,81.01 L239.03,81.18 L239.12,81.26 L239.38,81.51 L239.64,81.77 L239.90,82.03 L240.16,82.30 L240.34,82.48 L240.42,82.57 L240.68,82.84 L240.94,83.12 L241.20,83.41 L241.46,83.69 L241.64,83.90 L241.72,83.99 L241.98,84.29 L242.24,84.59 L242.50,84.90 L242.76,85.22 L242.95,85.44 L243.03,85.54 L243.29,85.86 L243.55,86.19 L243.81,86.53 L244.07,86.87 L244.25,87.11 L244.33,87.21 L244.59,87.57 L244.85,87.92 L245.11,88.29 L245.37,88.65 L245.55,88.92 L245.63,89.03 L245.89,89.41 L246.15,89.79 L246.41,90.19 L246.67,90.58 L246.86,90.87 L246.93,90.99 L247.19,91.39 L247.45,91.81 L247.71,92.23 L247.97,92.66 L248.16,92.97 L248.23,93.09 L248.49,93.53 L248.75,93.97 L249.01,94.43 L249.27,94.88 L249.47,95.23 L249.53,95.35 L249.79,95.82 L250.05,96.29 L250.32,96.78 L250.58,97.26 L250.77,97.63 L250.84,97.76 L251.10,98.26 L251.36,98.77 L251.62,99.28 L251.88,99.80 L252.07,100.20 L252.14,100.33 L252.40,100.86 L252.66,101.40 L252.92,101.95 L253.18,102.50 L253.38,102.93 L253.44,103.06 L253.70,103.63 L253.96,104.20 L254.22,104.78 L254.48,105.36 L254.68,105.82 L254.74,105.96 L255.00,106.55 L255.26,107.16 L255.52,107.77 L255.78,108.39 L255.99,108.88 L256.04,109.01 L256.30,109.65 L256.56,110.28 L256.82,110.93 L257.08,111.58 L257.29,112.10 L257.34,112.23 L257.61,112.90 L257.87,113.57 L258.13,114.25 L258.39,114.93 L258.59,115.48 L258.65,115.62 L258.91,116.31 L259.17,117.02 L259.43,117.73 L259.69,118.44 L259.90,119.02 L259.95,119.16 L260.21,119.89 L260.47,120.63 L260.73,121.37 L260.99,122.11 L261.20,122.73 L261.25,122.87 L261.51,123.63 L261.77,124.39 L262.03,125.17 L262.29,125.94 L262.51,126.59 L262.55,126.73 L262.81,127.52 L263.07,128.32 L263.33,129.12 L263.59,129.93 L263.81,130.61 L263.85,130.74 L264.11,131.57 L264.37,132.39 L264.63,133.23 L264.90,134.06 L265.11,134.78 L265.16,134.91 L265.42,135.76 L265.68,136.62 L265.94,137.48 L266.20,138.35 L266.42,139.09 L266.46,139.22 L266.72,140.10 L266.98,140.99 L267.24,141.88 L267.50,142.78 L267.72,143.55 L267.76,143.68 L268.02,144.59 L268.28,145.50 L268.54,146.42 L268.80,147.35 L269.03,148.15 L269.06,148.28 L269.32,149.21 L269.58,150.15 L269.84,151.10 L270.10,152.05 L270.33,152.89 L270.36,153.01 L270.62,153.97 L270.88,154.94 L271.14,155.91 L271.40,156.89 L271.63,157.75 L271.66,157.87 L271.92,158.86 L272.19,159.85 L272.45,160.85 L272.71,161.85 L272.94,162.75 L272.97,162.86 L273.23,163.87 L273.49,164.89 L273.75,165.91 L274.01,166.93 L274.24,167.86 L274.27,167.97 L274.53,169.00 L274.79,170.04 L275.05,171.09 L275.31,172.14 L275.55,173.10 L275.57,173.19 L275.83,174.25 L276.09,175.32 L276.35,176.39 L276.61,177.46 L276.85,178.44 L276.87,178.53 L277.13,179.62 L277.39,180.70 L277.65,181.79 L277.91,182.89 L278.15,183.90 L278.17,183.98 L278.43,185.09 L278.69,186.19 L278.95,187.31 L279.21,188.42 L279.46,189.46 L279.48,189.54 L279.74,190.66 L280.00,191.79 L280.26,192.92 L280.52,194.06 L280.76,195.13 L280.78,195.20 L281.04,196.34 L281.30,197.49 L281.56,198.64 L281.82,199.79 L282.07,200.89 L282.08,200.95 L282.34,202.11 L282.60,203.28 L282.86,204.45 L283.12,205.62 L283.37,206.75 L283.38,206.80 L283.64,207.98 L283.90,209.16 L284.16,210.35 L284.42,211.54 L284.67,212.69 L284.68,212.73 L284.94,213.93 L285.20,215.13 L285.46,216.33 L285.72,217.54 L285.98,218.72 L285.98,218.75 L286.24,219.97 L286.50,221.18 L286.77,222.41 L287.03,223.63 L287.28,224.84 L287.29,224.86 L287.55,226.09 L287.81,227.32 L288.07,228.56 L288.33,229.80 L288.59,231.03 L288.59,231.04 L288.85,232.29 L289.11,233.54 L289.37,234.79 L289.63,236.04 L289.89,237.30" fill="none" stroke="#e02828" stroke-width="1.1"/>
<path d="M391.60,238.30 L392.78,238.05 L393.96,237.81 L395.14,237.56 L396.32,237.32 L397.50,237.07 L398.68,236.82 L399.86,236.58 L401.04,236.33 L402.22,236.09 L403.40,235.84 L404.58,235.60 L405.76,235.35 L406.94,235.11 L408.12,234.86 L409.30,234.62 L410.48,234.37 L411.66,234.13 L412.84,233.89 L414.02,233.64 L415.20,233.40 L416.38,233.15 L417.56,232.91 L418.74,232.67 L419.92,232.42 L421.10,232.18 L422.28,231.93 L423.46,231.69 L424.64,231.45 L425.82,231.20 L427.00,230.96 L428.18,230.72 L429.36,230.48 L430.54,230.23 L431.72,229.99 L432.90,229.75 L434.08,229.50 L435.26,229.26 L436.43,229.02 L437.61,228.78 L438.79,228.54 L439.97,228.29 L441.15,228.05 L442.33,227.81 L443.51,227.57 L444.69,227.33 L445.87,227.09 L447.05,226.84 L448.23,226.60 L449.41,226.36 L450.59,226.12 L451.77,225.88 L452.95,225.64 L454.13,225.40 L455.31,225.16 L456.49,224.92 L457.67,224.68 L458.85,224.44 L460.03,224.20 L461.21,223.96 L462.39,223.72 L463.57,223.48 L464.75,223.24 L465.93,223.00 L467.11,222.76 L468.29,222.52 L469.47,222.28 L470.65,222.04 L471.83,221.80 L473.01,221.56 L474.19,221.32 L475.37,221.09 L476.55,220.85 L477.73,220.61 L478.91,220.37 L480.09,220.13 L481.27,219.89 L482.45,219.65 L483.63,219.42 L484.81,219.18 L485.99,218.94 L487.17,218.70 L488.35,218.47 L489.53,218.23 L490.71,217.99 L491.89,217.75 L493.07,217.52 L494.25,217.28 L495.43,217.04 L496.61,216.81 L497.79,216.57 L498.97,216.33 L500.15,216.10 L501.33,215.86 L502.51,215.62 L503.69,215.39 L504.87,215.15 L506.05,214.91 L507.23,214.68 L508.41,214.44 L509.59,214.21 L510.77,213.97 L511.95,213.74 L513.13,213.50 L514.31,213.27 L515.49,213.03 L516.67,212.80 L517.85,212.56 L519.03,212.33 L520.21,212.09 L521.39,211.86 L522.57,211.62 L523.74,211.39 L524.92,211.15 L526.10,210.92 L527.28,210.69 L528.46,210.45 L529.64,210.22 L530.82,209.99 L532.00,209.75 L533.18,209.52 L534.36,209.29 L535.54,209.06 L536.72,208.82 L537.90,208.59 L539.08,208.36 L540.26,208.13 L541.44,207.90 L542.62,207.66 L543.80,207.43 L544.98,207.20 L546.16,206.97 L547.34,206.74 L548.52,206.51 L549.70,206.29 L550.88,206.06 L552.06,205.83 L553.24,205.60 L554.42,205.38 L555.60,205.15 L555.96,205.08 L556.19,205.04 L556.43,204.99 L556.66,204.95 L556.78,204.93 L556.90,204.90 L557.13,204.86 L557.37,204.82 L557.60,204.77 L557.84,204.73 L557.96,204.70 L558.08,204.68 L558.31,204.64 L558.55,204.59 L558.78,204.55 L559.02,204.50 L559.14,204.48 L559.25,204.46 L559.49,204.42 L559.72,204.37 L559.96,204.33 L560.20,204.28 L560.32,204.26 L560.43,204.24 L560.67,204.19 L560.90,204.15 L561.14,204.11 L561.37,204.06 L561.50,204.04 L561.61,204.02 L561.84,203.98 L562.08,203.93 L562.32,203.89 L562.55,203.85 L562.68,203.82 L562.79,203.80 L563.02,203.76 L563.26,203.72 L563.49,203.67 L563.73,203.63 L563.86,203.61 L563.96,203.59 L564.20,203.54 L564.44,203.50 L564.67,203.46 L564.91,203.41 L565.04,203.39 L565.14,203.37 L565.38,203.33 L565.61,203.29 L565.85,203.24 L566.09,203.20 L566.22,203.18 L566.32,203.16 L566.56,203.12 L566.79,203.08 L567.03,203.03 L567.26,202.99 L567.40,202.97 L567.50,202.95 L567.73,202.91 L567.97,202.87 L568.21,202.83 L568.44,202.79 L568.58,202.76 L568.68,202.74 L568.91,202.70 L569.15,202.66 L569.38,202.62 L569.62,202.58 L569.76,202.56 L569.85,202.54 L570.09,202.50 L570.33,202.46 L570.56,202.42 L570.80,202.38 L570.94,202.36 L571.03,202.34 L571.27,202.30 L571.50,202.26 L571.74,202.22 L571.97,202.18 L572.12,202.16 L572.21,202.14 L572.45,202.11 L572.68,202.07 L572.92,202.03 L573.15,201.99 L573.30,201.97 L573.39,201.95 L573.62,201.92 L573.86,201.88 L574.09,201.84 L574.33,201.80 L574.48,201.78 L574.57,201.77 L574.80,201.73 L575.04,201.69 L575.27,201.66 L575.51,201.62 L575.66,201.60 L575.74,201.58 L575.98,201.55 L576.21,201.51 L576.45,201.48 L576.69,201.44 L576.84,201.42 L576.92,201.41 L577.16,201.38 L577.39,201.34 L577.63,201.31 L577.86,201.27 L578.02,201.25 L578.10,201.24 L578.34,201.21 L578.57,201.18 L578.81,201.14 L579.04,201.11 L579.20,201.09 L579.28,201.08 L579.51,201.05 L579.75,201.02 L579.98,200.99 L580.22,200.96 L580.38,200.94 L580.46,200.93 L580.69,200.90 L580.93,200.87 L581.16,200.84 L581.40,200.81 L581.56,200.80 L581.63,200.79 L581.87,200.76 L582.10,200.73 L582.34,200.71 L582.58,200.68 L582.74,200.66 L582.81,200.66 L583.05,200.63 L583.28,200.61 L583.52,200.58 L583.75,200.56 L583.92,200.54 L583.99,200.54 L584.22,200.51 L584.46,200.49 L584.70,200.47 L584.93,200.45 L585.10,200.44 L585.17,200.43 L585.40,200.41 L585.64,200.39 L585.87,200.38 L586.11,200.36 L586.28,200.35 L586.34,200.34 L586.58,200.33 L586.82,200.31 L587.05,200.30 L587.29,200.28 L587.46,200.27 L587.52,200.27 L587.76,200.26 L587.99,200.25 L588.23,200.24 L588.47,200.23 L588.64,200.22 L588.70,200.22 L588.94,200.21 L589.17,200.20 L589.41,200.20 L589.64,200.19 L589.82,200.19 L589.88,200.19 L590.11,200.18 L590.35,200.18 L590.59,200.18 L590.82,200.18 L591.00,200.18 L591.06,200.18 L591.29,200.18 L591.53,200.18 L591.76,200.19 L592.00,200.19 L592.18,200.20 L592.23,200.20 L592.47,200.21 L592.71,200.22 L592.94,200.23 L593.18,200.24 L593.36,200.25 L593.41,200.25 L593.65,200.26 L593.88,200.28 L594.12,200.30 L594.35,200.31 L594.54,200.33 L594.59,200.33 L594.83,200.35 L595.06,200.38 L595.30,200.40 L595.53,200.43 L595.72,200.45 L595.77,200.45 L596.00,200.48 L596.24,200.51 L596.47,200.55 L596.71,200.58 L596.90,200.61 L596.95,200.62 L597.18,200.65 L597.42,200.69 L597.65,200.74 L597.89,200.78 L598.08,200.82 L598.12,200.83 L598.36,200.87 L598.59,200.92 L598.83,200.97 L599.07,201.03 L599.26,201.07 L599.30,201.09 L599.54,201.14 L599.77,201.20 L600.01,201.27 L600.24,201.33 L600.44,201.39 L600.48,201.40 L600.72,201.47 L600.95,201.54 L601.19,201.62 L601.42,201.70 L601.62,201.76 L601.66,201.78 L601.89,201.86 L602.13,201.95 L602.36,202.04 L602.60,202.13 L602.80,202.21 L602.84,202.23 L603.07,202.32 L603.31,202.42 L603.54,202.53 L603.78,202.64 L603.98,202.73 L604.01,202.75 L604.25,202.86 L604.48,202.98 L604.72,203.10 L604.96,203.22 L605.16,203.33 L605.19,203.35 L605.43,203.48 L605.66,203.62 L605.90,203.76 L606.13,203.90 L606.34,204.03 L606.37,204.05 L606.60,204.20 L606.84,204.35 L607.08,204.51 L607.31,204.67 L607.52,204.82 L607.55,204.84 L607.78,205.01 L608.02,205.19 L608.25,205.37 L608.49,205.55 L608.70,205.71 L608.72,205.74 L608.96,205.93 L609.20,206.13 L609.43,206.33 L609.67,206.54 L609.88,206.73 L609.90,206.75 L610.14,206.97 L610.37,207.19 L610.61,207.42 L610.84,207.66 L611.05,207.87 L611.08,207.89 L611.32,208.14 L611.55,208.39 L611.79,208.64 L612.02,208.90 L612.23,209.14 L612.26,209.17 L612.49,209.44 L612.73,209.72 L612.97,210.00 L613.20,210.29 L613.41,210.56 L613.44,210.59 L613.67,210.89 L613.91,211.20 L614.14,211.51 L614.38,211.83 L614.59,212.13 L614.61,212.16 L614.85,212.49 L615.09,212.83 L615.32,213.18 L615.56,213.53 L615.77,213.86 L615.79,213.89 L616.03,214.26 L616.26,214.63 L616.50,215.01 L616.73,215.40 L616.95,215.77 L616.97,215.80 L617.21,216.20 L617.44,216.61 L617.68,217.03 L617.91,217.46 L618.13,217.86 L618.15,217.89 L618.38,218.33 L618.62,218.78 L618.85,219.23 L619.09,219.70 L619.31,220.14 L619.33,220.17 L619.56,220.65 L619.80,221.14 L620.03,221.63 L620.27,222.14 L620.49,222.63 L620.50,222.65 L620.74,223.17 L620.97,223.70 L621.21,224.23 L621.45,224.78 L621.67,225.32 L621.68,225.34 L621.92,225.90 L622.15,226.47 L622.39,227.05 L622.62,227.64 L622.85,228.22 L622.86,228.24 L623.10,228.84 L623.33,229.46 L623.57,230.09 L623.80,230.72 L624.03,231.35 L624.04,231.36 L624.27,232.01 L624.51,232.68 L624.74,233.35 L624.98,234.03 L625.21,234.71 L625.22,234.71 L625.45,235.41 L625.69,236.12 L625.92,236.84 L626.16,237.56 L626.39,238.30" fill="none" stroke="#35a5e5" stroke-width="1.0"/>
<path d="M391.60,238.30 L392.82,237.79 L394.03,237.29 L395.25,236.78 L396.46,236.27 L397.68,235.77 L398.89,235.26 L400.11,234.76 L401.33,234.25 L402.54,233.75 L403.76,233.24 L404.97,232.74 L406.19,232.23 L407.40,231.73 L408.62,231.22 L409.84,230.72 L411.05,230.22 L412.27,229.71 L413.48,229.21 L414.70,228.71 L415.91,228.21 L417.13,227.70 L418.35,227.20 L419.56,226.70 L420.78,226.20 L421.99,225.70 L423.21,225.20 L424.42,224.69 L425.64,224.19 L426.86,223.69 L428.07,223.19 L429.29,222.69 L430.50,222.19 L431.72,221.69 L432.93,221.19 L434.15,220.69 L435.37,220.20 L436.58,219.70 L437.80,219.20 L439.01,218.70 L440.23,218.20 L441.45,217.70 L442.66,217.21 L443.88,216.71 L445.09,216.21 L446.31,215.71 L447.52,215.22 L448.74,214.72 L449.96,214.22 L451.17,213.73 L452.39,213.23 L453.60,212.74 L454.82,212.24 L456.03,211.75 L457.25,211.25 L458.47,210.76 L459.68,210.26 L460.90,209.77 L462.11,209.27 L463.33,208.78 L464.54,208.29 L465.76,207.79 L466.98,207.30 L468.19,206.81 L469.41,206.31 L470.62,205.82 L471.84,205.33 L473.05,204.84 L474.27,204.35 L475.49,203.85 L476.70,203.36 L477.92,202.87 L479.13,202.38 L480.35,201.89 L481.56,201.40 L482.78,200.91 L484.00,200.42 L485.21,199.93 L486.43,199.44 L487.64,198.95 L488.86,198.46 L490.07,197.97 L491.29,197.48 L492.51,197.00 L493.72,196.51 L494.94,196.02 L496.15,195.53 L497.37,195.04 L498.58,194.56 L499.80,194.07 L501.02,193.58 L502.23,193.10 L503.45,192.61 L504.66,192.12 L505.88,191.64 L507.09,191.15 L508.31,190.67 L509.53,190.18 L510.74,189.70 L511.96,189.21 L513.17,188.73 L514.39,188.24 L515.60,187.76 L516.82,187.27 L518.04,186.79 L519.25,186.31 L520.47,185.82 L521.68,185.34 L522.90,184.86 L524.11,184.38 L525.33,183.90 L526.55,183.41 L527.76,182.93 L528.98,182.45 L530.19,181.97 L531.41,181.49 L532.63,181.01 L533.84,180.53 L535.06,180.05 L536.27,179.57 L537.49,179.09 L538.70,178.61 L539.92,178.14 L541.14,177.66 L542.35,177.18 L543.57,176.71 L544.78,176.23 L546.00,175.76 L547.21,175.28 L548.43,174.81 L549.65,174.34 L550.86,173.86 L552.08,173.39 L553.29,172.92 L554.51,172.46 L555.72,171.99 L556.94,171.52 L558.16,171.06 L559.37,170.60 L560.59,170.14 L560.95,170.00 L561.19,169.91 L561.44,169.82 L561.68,169.73 L561.80,169.68 L561.92,169.64 L562.17,169.55 L562.41,169.46 L562.65,169.37 L562.89,169.28 L563.02,169.23 L563.14,169.19 L563.38,169.10 L563.62,169.01 L563.86,168.92 L564.11,168.83 L564.23,168.78 L564.35,168.74 L564.59,168.65 L564.84,168.56 L565.08,168.47 L565.32,168.38 L565.45,168.33 L565.56,168.29 L565.81,168.20 L566.05,168.11 L566.29,168.02 L566.53,167.93 L566.67,167.89 L566.78,167.85 L567.02,167.76 L567.26,167.67 L567.51,167.58 L567.75,167.50 L567.88,167.45 L567.99,167.41 L568.23,167.32 L568.48,167.23 L568.72,167.15 L568.96,167.06 L569.10,167.01 L569.20,166.97 L569.45,166.89 L569.69,166.80 L569.93,166.72 L570.18,166.63 L570.31,166.58 L570.42,166.55 L570.66,166.46 L570.90,166.38 L571.15,166.29 L571.39,166.21 L571.53,166.16 L571.63,166.12 L571.88,166.04 L572.12,165.96 L572.36,165.87 L572.60,165.79 L572.74,165.74 L572.85,165.71 L573.09,165.63 L573.33,165.54 L573.57,165.46 L573.82,165.38 L573.96,165.33 L574.06,165.30 L574.30,165.22 L574.55,165.14 L574.79,165.06 L575.03,164.98 L575.18,164.93 L575.27,164.90 L575.52,164.82 L575.76,164.74 L576.00,164.67 L576.24,164.59 L576.39,164.54 L576.49,164.51 L576.73,164.44 L576.97,164.36 L577.22,164.28 L577.46,164.21 L577.61,164.16 L577.70,164.13 L577.94,164.06 L578.19,163.99 L578.43,163.91 L578.67,163.84 L578.82,163.80 L578.91,163.77 L579.16,163.70 L579.40,163.63 L579.64,163.56 L579.89,163.49 L580.04,163.44 L580.13,163.42 L580.37,163.35 L580.61,163.28 L580.86,163.21 L581.10,163.15 L581.25,163.10 L581.34,163.08 L581.58,163.01 L581.83,162.95 L582.07,162.89 L582.31,162.82 L582.47,162.78 L582.56,162.76 L582.80,162.70 L583.04,162.64 L583.28,162.58 L583.53,162.52 L583.69,162.48 L583.77,162.46 L584.01,162.40 L584.25,162.35 L584.50,162.29 L584.74,162.24 L584.90,162.20 L584.98,162.18 L585.23,162.13 L585.47,162.08 L585.71,162.03 L585.95,161.98 L586.12,161.95 L586.20,161.93 L586.44,161.88 L586.68,161.84 L586.92,161.79 L587.17,161.75 L587.33,161.72 L587.41,161.71 L587.65,161.66 L587.90,161.62 L588.14,161.59 L588.38,161.55 L588.55,161.52 L588.62,161.51 L588.87,161.48 L589.11,161.44 L589.35,161.41 L589.60,161.38 L589.76,161.36 L589.84,161.35 L590.08,161.32 L590.32,161.30 L590.57,161.27 L590.81,161.25 L590.98,161.24 L591.05,161.23 L591.29,161.21 L591.54,161.19 L591.78,161.18 L592.02,161.16 L592.20,161.16 L592.27,161.15 L592.51,161.14 L592.75,161.13 L592.99,161.13 L593.24,161.12 L593.41,161.12 L593.48,161.12 L593.72,161.12 L593.96,161.12 L594.21,161.13 L594.45,161.14 L594.63,161.14 L594.69,161.14 L594.94,161.16 L595.18,161.17 L595.42,161.19 L595.66,161.20 L595.84,161.22 L595.91,161.23 L596.15,161.25 L596.39,161.28 L596.63,161.31 L596.88,161.34 L597.06,161.36 L597.12,161.37 L597.36,161.41 L597.61,161.45 L597.85,161.49 L598.09,161.54 L598.27,161.58 L598.33,161.59 L598.58,161.64 L598.82,161.70 L599.06,161.76 L599.30,161.82 L599.49,161.87 L599.55,161.89 L599.79,161.96 L600.03,162.03 L600.28,162.11 L600.52,162.19 L600.71,162.25 L600.76,162.27 L601.00,162.36 L601.25,162.45 L601.49,162.55 L601.73,162.65 L601.92,162.73 L601.97,162.75 L602.22,162.86 L602.46,162.97 L602.70,163.09 L602.95,163.21 L603.14,163.31 L603.19,163.34 L603.43,163.47 L603.67,163.60 L603.92,163.74 L604.16,163.88 L604.35,164.00 L604.40,164.03 L604.64,164.19 L604.89,164.34 L605.13,164.51 L605.37,164.68 L605.57,164.82 L605.62,164.85 L605.86,165.03 L606.10,165.22 L606.34,165.41 L606.59,165.60 L606.78,165.77 L606.83,165.80 L607.07,166.01 L607.32,166.22 L607.56,166.44 L607.80,166.67 L608.00,166.86 L608.04,166.90 L608.29,167.14 L608.53,167.38 L608.77,167.63 L609.01,167.89 L609.22,168.10 L609.26,168.15 L609.50,168.42 L609.74,168.69 L609.99,168.98 L610.23,169.26 L610.43,169.51 L610.47,169.56 L610.71,169.86 L610.96,170.17 L611.20,170.49 L611.44,170.81 L611.65,171.10 L611.68,171.15 L611.93,171.49 L612.17,171.83 L612.41,172.19 L612.66,172.55 L612.86,172.86 L612.90,172.92 L613.14,173.29 L613.38,173.68 L613.63,174.07 L613.87,174.47 L614.08,174.83 L614.11,174.88 L614.35,175.30 L614.60,175.72 L614.84,176.16 L615.08,176.60 L615.30,176.99 L615.33,177.05 L615.57,177.51 L615.81,177.97 L616.05,178.45 L616.30,178.94 L616.51,179.37 L616.54,179.43 L616.78,179.93 L617.02,180.44 L617.27,180.96 L617.51,181.49 L617.73,181.97 L617.75,182.03 L618.00,182.58 L618.24,183.13 L618.48,183.70 L618.72,184.27 L618.94,184.80 L618.97,184.86 L619.21,185.45 L619.45,186.06 L619.69,186.67 L619.94,187.29 L620.16,187.87 L620.18,187.92 L620.42,188.57 L620.67,189.22 L620.91,189.88 L621.15,190.55 L621.37,191.17 L621.39,191.23 L621.64,191.92 L621.88,192.62 L622.12,193.33 L622.36,194.05 L622.59,194.73 L622.61,194.78 L622.85,195.52 L623.09,196.27 L623.34,197.03 L623.58,197.81 L623.81,198.53 L623.82,198.59 L624.06,199.38 L624.31,200.18 L624.55,200.99 L624.79,201.81 L625.02,202.60 L625.04,202.64 L625.28,203.49 L625.52,204.34 L625.76,205.20 L626.01,206.08 L626.24,206.92 L626.25,206.96 L626.49,207.85 L626.73,208.76 L626.98,209.67 L627.22,210.60 L627.45,211.49 L627.46,211.53 L627.71,212.48 L627.95,213.44 L628.19,214.40 L628.43,215.38 L628.67,216.34 L628.68,216.37 L628.92,217.37 L629.16,218.37 L629.40,219.39 L629.65,220.42 L629.88,221.44 L629.89,221.46 L630.13,222.51 L630.38,223.57 L630.62,224.64 L630.86,225.72 L631.10,226.80 L631.10,226.82 L631.35,227.92 L631.59,229.03 L631.83,230.15 L632.07,231.29 L632.32,232.42 L632.32,232.43 L632.56,233.58 L632.80,234.75 L633.05,235.92 L633.29,237.11 L633.53,238.30" fill="none" stroke="#6cc83a" stroke-width="1.0"/>
<path d="M391.60,238.30 L392.84,237.53 L394.07,236.75 L395.31,235.98 L396.55,235.21 L397.78,234.44 L399.02,233.67 L400.26,232.90 L401.49,232.13 L402.73,231.36 L403.97,230.59 L405.20,229.82 L406.44,229.05 L407.68,228.28 L408.91,227.51 L410.15,226.75 L411.39,225.98 L412.62,225.21 L413.86,224.44 L415.10,223.68 L416.33,222.91 L417.57,222.15 L418.81,221.38 L420.04,220.62 L421.28,219.85 L422.52,219.09 L423.75,218.32 L424.99,217.56 L426.23,216.80 L427.46,216.03 L428.70,215.27 L429.94,214.51 L431.17,213.75 L432.41,212.98 L433.65,212.22 L434.89,211.46 L436.12,210.70 L437.36,209.94 L438.60,209.18 L439.83,208.42 L441.07,207.66 L442.31,206.90 L443.54,206.15 L444.78,205.39 L446.02,204.63 L447.25,203.87 L448.49,203.12 L449.73,202.36 L450.96,201.60 L452.20,200.85 L453.44,200.09 L454.67,199.34 L455.91,198.58 L457.15,197.83 L458.38,197.07 L459.62,196.32 L460.86,195.56 L462.09,194.81 L463.33,194.06 L464.57,193.31 L465.80,192.55 L467.04,191.80 L468.28,191.05 L469.51,190.30 L470.75,189.55 L471.99,188.80 L473.22,188.05 L474.46,187.30 L475.70,186.55 L476.93,185.80 L478.17,185.05 L479.41,184.30 L480.64,183.55 L481.88,182.81 L483.12,182.06 L484.35,181.31 L485.59,180.57 L486.83,179.82 L488.06,179.07 L489.30,178.33 L490.54,177.58 L491.77,176.84 L493.01,176.09 L494.25,175.35 L495.48,174.61 L496.72,173.86 L497.96,173.12 L499.19,172.38 L500.43,171.63 L501.67,170.89 L502.90,170.15 L504.14,169.41 L505.38,168.67 L506.61,167.93 L507.85,167.19 L509.09,166.45 L510.32,165.71 L511.56,164.97 L512.80,164.23 L514.03,163.49 L515.27,162.75 L516.51,162.02 L517.75,161.28 L518.98,160.54 L520.22,159.80 L521.46,159.07 L522.69,158.33 L523.93,157.60 L525.17,156.86 L526.40,156.13 L527.64,155.39 L528.88,154.66 L530.11,153.93 L531.35,153.20 L532.59,152.46 L533.82,151.73 L535.06,151.00 L536.30,150.27 L537.53,149.54 L538.77,148.81 L540.01,148.08 L541.24,147.36 L542.48,146.63 L543.72,145.91 L544.95,145.18 L546.19,144.46 L547.43,143.74 L548.66,143.01 L549.90,142.29 L551.14,141.58 L552.37,140.86 L553.61,140.15 L554.85,139.43 L556.08,138.72 L557.32,138.02 L558.56,137.31 L559.79,136.61 L561.03,135.91 L562.27,135.22 L563.50,134.53 L563.87,134.32 L564.12,134.19 L564.37,134.05 L564.62,133.91 L564.74,133.84 L564.86,133.78 L565.11,133.64 L565.36,133.51 L565.60,133.37 L565.85,133.24 L565.98,133.17 L566.10,133.10 L566.34,132.97 L566.59,132.83 L566.84,132.70 L567.08,132.56 L567.21,132.49 L567.33,132.43 L567.58,132.30 L567.83,132.16 L568.07,132.03 L568.32,131.90 L568.45,131.83 L568.57,131.77 L568.81,131.64 L569.06,131.50 L569.31,131.37 L569.55,131.24 L569.69,131.17 L569.80,131.11 L570.05,130.98 L570.29,130.85 L570.54,130.72 L570.79,130.60 L570.92,130.53 L571.04,130.47 L571.28,130.34 L571.53,130.21 L571.78,130.09 L572.02,129.96 L572.16,129.89 L572.27,129.83 L572.52,129.71 L572.76,129.58 L573.01,129.46 L573.26,129.33 L573.40,129.26 L573.50,129.21 L573.75,129.09 L574.00,128.96 L574.25,128.84 L574.49,128.72 L574.63,128.65 L574.74,128.60 L574.99,128.48 L575.23,128.36 L575.48,128.24 L575.73,128.12 L575.87,128.05 L575.97,128.00 L576.22,127.89 L576.47,127.77 L576.71,127.65 L576.96,127.54 L577.11,127.47 L577.21,127.42 L577.46,127.31 L577.70,127.20 L577.95,127.09 L578.20,126.97 L578.34,126.91 L578.44,126.86 L578.69,126.75 L578.94,126.65 L579.18,126.54 L579.43,126.43 L579.58,126.37 L579.68,126.33 L579.92,126.22 L580.17,126.12 L580.42,126.01 L580.67,125.91 L580.82,125.85 L580.91,125.81 L581.16,125.71 L581.41,125.61 L581.65,125.51 L581.90,125.42 L582.05,125.36 L582.15,125.32 L582.39,125.23 L582.64,125.13 L582.89,125.04 L583.14,124.95 L583.29,124.89 L583.38,124.86 L583.63,124.77 L583.88,124.69 L584.12,124.60 L584.37,124.52 L584.53,124.46 L584.62,124.43 L584.86,124.35 L585.11,124.27 L585.36,124.20 L585.60,124.12 L585.76,124.07 L585.85,124.04 L586.10,123.97 L586.35,123.90 L586.59,123.83 L586.84,123.76 L587.00,123.72 L587.09,123.70 L587.33,123.63 L587.58,123.57 L587.83,123.51 L588.07,123.45 L588.24,123.41 L588.32,123.40 L588.57,123.34 L588.81,123.29 L589.06,123.24 L589.31,123.19 L589.47,123.16 L589.56,123.14 L589.80,123.10 L590.05,123.06 L590.30,123.02 L590.54,122.99 L590.71,122.96 L590.79,122.95 L591.04,122.92 L591.28,122.89 L591.53,122.87 L591.78,122.84 L591.95,122.83 L592.02,122.82 L592.27,122.80 L592.52,122.79 L592.77,122.78 L593.01,122.77 L593.18,122.76 L593.26,122.76 L593.51,122.76 L593.75,122.76 L594.00,122.76 L594.25,122.77 L594.42,122.78 L594.49,122.78 L594.74,122.79 L594.99,122.81 L595.23,122.83 L595.48,122.86 L595.66,122.88 L595.73,122.88 L595.98,122.92 L596.22,122.95 L596.47,122.99 L596.72,123.03 L596.89,123.07 L596.96,123.08 L597.21,123.13 L597.46,123.19 L597.70,123.25 L597.95,123.31 L598.13,123.36 L598.20,123.38 L598.44,123.45 L598.69,123.53 L598.94,123.61 L599.19,123.70 L599.37,123.77 L599.43,123.79 L599.68,123.89 L599.93,123.99 L600.17,124.10 L600.42,124.21 L600.60,124.30 L600.67,124.33 L600.91,124.45 L601.16,124.58 L601.41,124.71 L601.65,124.85 L601.84,124.96 L601.90,124.99 L602.15,125.14 L602.40,125.30 L602.64,125.46 L602.89,125.63 L603.08,125.76 L603.14,125.80 L603.38,125.98 L603.63,126.17 L603.88,126.36 L604.12,126.56 L604.32,126.72 L604.37,126.76 L604.62,126.97 L604.86,127.19 L605.11,127.42 L605.36,127.65 L605.55,127.84 L605.61,127.89 L605.85,128.13 L606.10,128.39 L606.35,128.65 L606.59,128.91 L606.79,129.13 L606.84,129.19 L607.09,129.47 L607.33,129.76 L607.58,130.05 L607.83,130.36 L608.03,130.61 L608.07,130.67 L608.32,130.99 L608.57,131.32 L608.82,131.66 L609.06,132.00 L609.26,132.28 L609.31,132.35 L609.56,132.71 L609.80,133.08 L610.05,133.46 L610.30,133.84 L610.50,134.16 L610.54,134.24 L610.79,134.64 L611.04,135.05 L611.28,135.47 L611.53,135.90 L611.74,136.26 L611.78,136.34 L612.03,136.78 L612.27,137.24 L612.52,137.70 L612.77,138.18 L612.97,138.58 L613.01,138.66 L613.26,139.15 L613.51,139.65 L613.75,140.16 L614.00,140.68 L614.21,141.13 L614.25,141.21 L614.50,141.75 L614.74,142.30 L614.99,142.86 L615.24,143.43 L615.45,143.92 L615.48,144.00 L615.73,144.59 L615.98,145.19 L616.22,145.80 L616.47,146.41 L616.68,146.95 L616.72,147.04 L616.96,147.68 L617.21,148.33 L617.46,148.98 L617.71,149.65 L617.92,150.24 L617.95,150.33 L618.20,151.02 L618.45,151.72 L618.69,152.42 L618.94,153.14 L619.16,153.78 L619.19,153.87 L619.43,154.61 L619.68,155.36 L619.93,156.12 L620.17,156.89 L620.39,157.58 L620.42,157.67 L620.67,158.46 L620.92,159.27 L621.16,160.08 L621.41,160.90 L621.63,161.64 L621.66,161.74 L621.90,162.58 L622.15,163.43 L622.40,164.30 L622.64,165.17 L622.87,165.97 L622.89,166.06 L623.14,166.96 L623.38,167.87 L623.63,168.78 L623.88,169.71 L624.10,170.56 L624.13,170.65 L624.37,171.60 L624.62,172.56 L624.87,173.53 L625.11,174.51 L625.34,175.42 L625.36,175.51 L625.61,176.51 L625.85,177.52 L626.10,178.55 L626.35,179.58 L626.58,180.55 L626.59,180.63 L626.84,181.68 L627.09,182.75 L627.34,183.82 L627.58,184.91 L627.81,185.93 L627.83,186.01 L628.08,187.12 L628.32,188.23 L628.57,189.36 L628.82,190.50 L629.05,191.59 L629.06,191.65 L629.31,192.81 L629.56,193.98 L629.80,195.17 L630.05,196.36 L630.29,197.50 L630.30,197.56 L630.55,198.77 L630.79,199.99 L631.04,201.23 L631.29,202.47 L631.52,203.67 L631.53,203.72 L631.78,204.98 L632.03,206.26 L632.27,207.54 L632.52,208.84 L632.76,210.10 L632.77,210.14 L633.01,211.45 L633.26,212.78 L633.51,214.11 L633.76,215.45 L634.00,216.77 L634.00,216.81 L634.25,218.17 L634.50,219.55 L634.74,220.93 L634.99,222.32 L635.23,223.70 L635.24,223.73 L635.48,225.14 L635.73,226.56 L635.98,228.00 L636.22,229.44 L636.47,230.88 L636.47,230.89 L636.72,232.36 L636.97,233.83 L637.21,235.31 L637.46,236.80 L637.71,238.30" fill="none" stroke="#a855f0" stroke-width="1.0"/>
<path d="M391.60,238.30 L392.85,237.26 L394.10,236.22 L395.35,235.18 L396.61,234.14 L397.86,233.10 L399.11,232.06 L400.36,231.02 L401.61,229.98 L402.86,228.94 L404.12,227.90 L405.37,226.87 L406.62,225.83 L407.87,224.79 L409.12,223.76 L410.37,222.72 L411.63,221.69 L412.88,220.65 L414.13,219.62 L415.38,218.59 L416.63,217.56 L417.88,216.52 L419.14,215.49 L420.39,214.46 L421.64,213.43 L422.89,212.40 L424.14,211.37 L425.39,210.34 L426.64,209.31 L427.90,208.28 L429.15,207.25 L430.40,206.23 L431.65,205.20 L432.90,204.17 L434.15,203.15 L435.41,202.12 L436.66,201.10 L437.91,200.07 L439.16,199.05 L440.41,198.02 L441.66,197.00 L442.92,195.98 L444.17,194.95 L445.42,193.93 L446.67,192.91 L447.92,191.89 L449.17,190.87 L450.43,189.85 L451.68,188.83 L452.93,187.81 L454.18,186.79 L455.43,185.78 L456.68,184.76 L457.93,183.74 L459.19,182.72 L460.44,181.71 L461.69,180.69 L462.94,179.68 L464.19,178.66 L465.44,177.65 L466.70,176.63 L467.95,175.62 L469.20,174.61 L470.45,173.60 L471.70,172.58 L472.95,171.57 L474.21,170.56 L475.46,169.55 L476.71,168.54 L477.96,167.53 L479.21,166.52 L480.46,165.51 L481.72,164.51 L482.97,163.50 L484.22,162.49 L485.47,161.49 L486.72,160.48 L487.97,159.47 L489.23,158.47 L490.48,157.46 L491.73,156.46 L492.98,155.46 L494.23,154.45 L495.48,153.45 L496.73,152.45 L497.99,151.45 L499.24,150.44 L500.49,149.44 L501.74,148.44 L502.99,147.44 L504.24,146.44 L505.50,145.44 L506.75,144.45 L508.00,143.45 L509.25,142.45 L510.50,141.45 L511.75,140.46 L513.01,139.46 L514.26,138.47 L515.51,137.47 L516.76,136.48 L518.01,135.48 L519.26,134.49 L520.52,133.50 L521.77,132.50 L523.02,131.51 L524.27,130.52 L525.52,129.53 L526.77,128.54 L528.02,127.55 L529.28,126.56 L530.53,125.58 L531.78,124.59 L533.03,123.60 L534.28,122.62 L535.53,121.63 L536.79,120.65 L538.04,119.67 L539.29,118.69 L540.54,117.71 L541.79,116.73 L543.04,115.75 L544.30,114.77 L545.55,113.80 L546.80,112.82 L548.05,111.85 L549.30,110.88 L550.55,109.92 L551.81,108.95 L553.06,107.99 L554.31,107.03 L555.56,106.08 L556.81,105.13 L558.06,104.18 L559.31,103.24 L560.57,102.30 L561.82,101.37 L563.07,100.45 L564.32,99.53 L565.57,98.62 L565.95,98.35 L566.20,98.18 L566.45,98.00 L566.70,97.82 L566.82,97.73 L566.95,97.64 L567.20,97.46 L567.45,97.28 L567.70,97.11 L567.95,96.93 L568.08,96.84 L568.20,96.76 L568.45,96.58 L568.70,96.41 L568.95,96.23 L569.20,96.06 L569.33,95.97 L569.45,95.88 L569.70,95.71 L569.95,95.54 L570.20,95.37 L570.45,95.20 L570.58,95.11 L570.70,95.03 L570.95,94.86 L571.20,94.69 L571.45,94.52 L571.70,94.35 L571.83,94.26 L571.95,94.19 L572.20,94.02 L572.45,93.85 L572.70,93.69 L572.95,93.53 L573.08,93.44 L573.20,93.36 L573.45,93.20 L573.70,93.04 L573.95,92.88 L574.20,92.72 L574.33,92.63 L574.44,92.56 L574.69,92.40 L574.94,92.24 L575.19,92.09 L575.44,91.93 L575.59,91.84 L575.69,91.78 L575.94,91.62 L576.19,91.47 L576.44,91.32 L576.69,91.17 L576.84,91.08 L576.94,91.02 L577.19,90.87 L577.44,90.73 L577.69,90.58 L577.94,90.44 L578.09,90.35 L578.19,90.29 L578.44,90.15 L578.69,90.01 L578.94,89.87 L579.19,89.73 L579.34,89.65 L579.44,89.60 L579.69,89.46 L579.94,89.33 L580.19,89.20 L580.44,89.06 L580.59,88.99 L580.69,88.94 L580.94,88.81 L581.19,88.68 L581.44,88.56 L581.69,88.44 L581.84,88.36 L581.94,88.31 L582.19,88.20 L582.44,88.08 L582.69,87.96 L582.94,87.85 L583.10,87.78 L583.19,87.74 L583.44,87.63 L583.69,87.52 L583.94,87.42 L584.19,87.31 L584.35,87.25 L584.44,87.21 L584.69,87.11 L584.94,87.01 L585.19,86.92 L585.44,86.83 L585.60,86.77 L585.69,86.74 L585.94,86.65 L586.19,86.57 L586.44,86.48 L586.69,86.40 L586.85,86.36 L586.94,86.33 L587.19,86.25 L587.44,86.18 L587.69,86.11 L587.94,86.05 L588.10,86.01 L588.19,85.99 L588.44,85.93 L588.69,85.87 L588.94,85.81 L589.19,85.76 L589.35,85.73 L589.44,85.72 L589.69,85.67 L589.94,85.63 L590.19,85.60 L590.44,85.56 L590.60,85.54 L590.69,85.53 L590.94,85.51 L591.19,85.48 L591.44,85.47 L591.69,85.45 L591.86,85.44 L591.94,85.44 L592.19,85.43 L592.44,85.43 L592.69,85.43 L592.94,85.44 L593.11,85.44 L593.19,85.45 L593.44,85.46 L593.69,85.48 L593.94,85.50 L594.19,85.53 L594.36,85.55 L594.44,85.56 L594.69,85.60 L594.94,85.64 L595.19,85.69 L595.44,85.74 L595.61,85.78 L595.69,85.80 L595.94,85.86 L596.19,85.93 L596.44,86.00 L596.69,86.08 L596.86,86.14 L596.94,86.16 L597.19,86.25 L597.44,86.35 L597.69,86.45 L597.94,86.56 L598.11,86.64 L598.19,86.67 L598.44,86.79 L598.69,86.91 L598.94,87.04 L599.19,87.18 L599.37,87.28 L599.44,87.32 L599.69,87.47 L599.93,87.63 L600.18,87.79 L600.43,87.96 L600.62,88.09 L600.68,88.14 L600.93,88.33 L601.18,88.52 L601.43,88.71 L601.68,88.92 L601.87,89.08 L601.93,89.13 L602.18,89.35 L602.43,89.58 L602.68,89.81 L602.93,90.05 L603.12,90.24 L603.18,90.30 L603.43,90.56 L603.68,90.83 L603.93,91.10 L604.18,91.38 L604.37,91.60 L604.43,91.67 L604.68,91.97 L604.93,92.28 L605.18,92.59 L605.43,92.91 L605.62,93.17 L605.68,93.24 L605.93,93.58 L606.18,93.93 L606.43,94.29 L606.68,94.65 L606.88,94.94 L606.93,95.03 L607.18,95.41 L607.43,95.80 L607.68,96.21 L607.93,96.62 L608.13,96.94 L608.18,97.04 L608.43,97.47 L608.68,97.90 L608.93,98.35 L609.18,98.81 L609.38,99.18 L609.43,99.27 L609.68,99.75 L609.93,100.24 L610.18,100.73 L610.43,101.24 L610.63,101.65 L610.68,101.75 L610.93,102.28 L611.18,102.81 L611.43,103.36 L611.68,103.91 L611.88,104.37 L611.93,104.48 L612.18,105.05 L612.43,105.63 L612.68,106.23 L612.93,106.83 L613.13,107.33 L613.18,107.45 L613.43,108.07 L613.68,108.71 L613.93,109.36 L614.18,110.01 L614.39,110.56 L614.43,110.68 L614.68,111.36 L614.93,112.04 L615.18,112.74 L615.43,113.45 L615.64,114.05 L615.68,114.17 L615.93,114.90 L616.18,115.64 L616.43,116.39 L616.68,117.15 L616.89,117.80 L616.93,117.92 L617.18,118.70 L617.43,119.49 L617.68,120.30 L617.93,121.11 L618.14,121.81 L618.18,121.94 L618.43,122.77 L618.68,123.62 L618.93,124.47 L619.18,125.34 L619.39,126.09 L619.43,126.22 L619.68,127.11 L619.93,128.01 L620.18,128.92 L620.43,129.84 L620.64,130.64 L620.68,130.77 L620.93,131.71 L621.18,132.66 L621.43,133.63 L621.68,134.60 L621.89,135.46 L621.93,135.58 L622.18,136.58 L622.43,137.59 L622.68,138.60 L622.93,139.63 L623.15,140.54 L623.18,140.67 L623.43,141.71 L623.68,142.77 L623.93,143.84 L624.18,144.92 L624.40,145.89 L624.43,146.01 L624.68,147.11 L624.93,148.22 L625.18,149.34 L625.42,150.48 L625.65,151.50 L625.67,151.62 L625.92,152.77 L626.17,153.93 L626.42,155.11 L626.67,156.29 L626.90,157.38 L626.92,157.49 L627.17,158.69 L627.42,159.91 L627.67,161.13 L627.92,162.37 L628.15,163.51 L628.17,163.61 L628.42,164.87 L628.67,166.13 L628.92,167.41 L629.17,168.69 L629.40,169.89 L629.42,169.99 L629.67,171.30 L629.92,172.61 L630.17,173.94 L630.42,175.28 L630.66,176.53 L630.67,176.62 L630.92,177.98 L631.17,179.34 L631.42,180.72 L631.67,182.10 L631.91,183.42 L631.92,183.50 L632.17,184.91 L632.42,186.32 L632.67,187.74 L632.92,189.18 L633.16,190.55 L633.17,190.62 L633.42,192.08 L633.67,193.54 L633.92,195.01 L634.17,196.50 L634.41,197.92 L634.42,197.99 L634.67,199.49 L634.92,201.00 L635.17,202.52 L635.42,204.05 L635.66,205.54 L635.67,205.59 L635.92,207.14 L636.17,208.70 L636.42,210.26 L636.67,211.84 L636.91,213.38 L636.92,213.42 L637.17,215.02 L637.42,216.62 L637.67,218.24 L637.92,219.86 L638.17,221.46 L638.17,221.49 L638.42,223.13 L638.67,224.78 L638.92,226.44 L639.17,228.11 L639.42,229.77 L639.42,229.78 L639.67,231.47 L639.92,233.16 L640.17,234.87 L640.42,236.58 L640.67,238.30" fill="none" stroke="#e9b83e" stroke-width="1.0"/>
<path d="M391.60,238.30 L392.86,236.99 L394.13,235.67 L395.39,234.36 L396.65,233.05 L397.92,231.74 L399.18,230.43 L400.44,229.12 L401.71,227.81 L402.97,226.50 L404.23,225.20 L405.49,223.89 L406.76,222.58 L408.02,221.28 L409.28,219.97 L410.55,218.67 L411.81,217.36 L413.07,216.06 L414.34,214.76 L415.60,213.46 L416.86,212.15 L418.13,210.85 L419.39,209.55 L420.65,208.25 L421.92,206.95 L423.18,205.65 L424.44,204.36 L425.71,203.06 L426.97,201.76 L428.23,200.47 L429.49,199.17 L430.76,197.88 L432.02,196.58 L433.28,195.29 L434.55,193.99 L435.81,192.70 L437.07,191.41 L438.34,190.12 L439.60,188.83 L440.86,187.54 L442.13,186.25 L443.39,184.96 L444.65,183.67 L445.92,182.38 L447.18,181.10 L448.44,179.81 L449.70,178.52 L450.97,177.24 L452.23,175.95 L453.49,174.67 L454.76,173.39 L456.02,172.10 L457.28,170.82 L458.55,169.54 L459.81,168.26 L461.07,166.98 L462.34,165.70 L463.60,164.42 L464.86,163.14 L466.13,161.86 L467.39,160.59 L468.65,159.31 L469.92,158.03 L471.18,156.76 L472.44,155.48 L473.70,154.21 L474.97,152.93 L476.23,151.66 L477.49,150.39 L478.76,149.12 L480.02,147.84 L481.28,146.57 L482.55,145.30 L483.81,144.03 L485.07,142.76 L486.34,141.50 L487.60,140.23 L488.86,138.96 L490.13,137.69 L491.39,136.43 L492.65,135.16 L493.92,133.90 L495.18,132.63 L496.44,131.37 L497.70,130.11 L498.97,128.85 L500.23,127.58 L501.49,126.32 L502.76,125.06 L504.02,123.80 L505.28,122.54 L506.55,121.29 L507.81,120.03 L509.07,118.77 L510.34,117.51 L511.60,116.26 L512.86,115.00 L514.13,113.75 L515.39,112.49 L516.65,111.24 L517.91,109.99 L519.18,108.74 L520.44,107.49 L521.70,106.24 L522.97,104.99 L524.23,103.74 L525.49,102.49 L526.76,101.24 L528.02,100.00 L529.28,98.75 L530.55,97.51 L531.81,96.26 L533.07,95.02 L534.34,93.78 L535.60,92.54 L536.86,91.30 L538.13,90.07 L539.39,88.83 L540.65,87.60 L541.91,86.36 L543.18,85.13 L544.44,83.91 L545.70,82.68 L546.97,81.46 L548.23,80.24 L549.49,79.02 L550.76,77.81 L552.02,76.60 L553.28,75.39 L554.55,74.19 L555.81,73.00 L557.07,71.81 L558.34,70.63 L559.60,69.45 L560.86,68.29 L562.13,67.13 L563.39,65.99 L564.65,64.86 L565.91,63.74 L567.18,62.64 L567.56,62.31 L567.81,62.09 L568.06,61.88 L568.31,61.66 L568.44,61.55 L568.57,61.45 L568.82,61.23 L569.07,61.02 L569.32,60.81 L569.57,60.59 L569.70,60.49 L569.83,60.38 L570.08,60.17 L570.33,59.97 L570.58,59.76 L570.84,59.55 L570.97,59.44 L571.09,59.35 L571.34,59.14 L571.59,58.94 L571.84,58.73 L572.10,58.53 L572.23,58.43 L572.35,58.33 L572.60,58.13 L572.85,57.93 L573.11,57.74 L573.36,57.54 L573.49,57.44 L573.61,57.35 L573.86,57.15 L574.11,56.96 L574.37,56.77 L574.62,56.58 L574.76,56.48 L574.87,56.39 L575.12,56.21 L575.38,56.02 L575.63,55.84 L575.88,55.66 L576.02,55.56 L576.13,55.48 L576.38,55.30 L576.64,55.12 L576.89,54.94 L577.14,54.77 L577.28,54.67 L577.39,54.60 L577.65,54.43 L577.90,54.26 L578.15,54.09 L578.40,53.93 L578.55,53.83 L578.65,53.77 L578.91,53.60 L579.16,53.45 L579.41,53.29 L579.66,53.13 L579.81,53.05 L579.91,52.98 L580.17,52.83 L580.42,52.68 L580.67,52.54 L580.92,52.40 L581.07,52.31 L581.18,52.25 L581.43,52.12 L581.68,51.98 L581.93,51.85 L582.18,51.72 L582.34,51.64 L582.44,51.59 L582.69,51.46 L582.94,51.34 L583.19,51.22 L583.45,51.10 L583.60,51.04 L583.70,50.99 L583.95,50.88 L584.20,50.77 L584.45,50.67 L584.71,50.57 L584.86,50.51 L584.96,50.47 L585.21,50.38 L585.46,50.28 L585.72,50.20 L585.97,50.11 L586.13,50.06 L586.22,50.03 L586.47,49.96 L586.72,49.88 L586.98,49.81 L587.23,49.75 L587.39,49.71 L587.48,49.69 L587.73,49.63 L587.99,49.58 L588.24,49.53 L588.49,49.48 L588.65,49.46 L588.74,49.44 L588.99,49.41 L589.25,49.37 L589.50,49.35 L589.75,49.33 L589.91,49.31 L590.00,49.31 L590.26,49.30 L590.51,49.29 L590.76,49.28 L591.01,49.29 L591.18,49.29 L591.26,49.29 L591.52,49.31 L591.77,49.33 L592.02,49.35 L592.27,49.38 L592.44,49.40 L592.53,49.41 L592.78,49.45 L593.03,49.50 L593.28,49.55 L593.53,49.61 L593.70,49.65 L593.79,49.67 L594.04,49.74 L594.29,49.82 L594.54,49.90 L594.80,49.99 L594.97,50.05 L595.05,50.08 L595.30,50.19 L595.55,50.29 L595.80,50.41 L596.06,50.53 L596.23,50.62 L596.31,50.66 L596.56,50.79 L596.81,50.94 L597.07,51.09 L597.32,51.24 L597.49,51.36 L597.57,51.41 L597.82,51.58 L598.07,51.76 L598.33,51.95 L598.58,52.14 L598.76,52.28 L598.83,52.34 L599.08,52.55 L599.33,52.77 L599.59,53.00 L599.84,53.23 L600.02,53.40 L600.09,53.47 L600.34,53.72 L600.60,53.98 L600.85,54.25 L601.10,54.53 L601.28,54.73 L601.35,54.81 L601.60,55.10 L601.86,55.40 L602.11,55.71 L602.36,56.03 L602.55,56.27 L602.61,56.36 L602.87,56.70 L603.12,57.05 L603.37,57.40 L603.62,57.77 L603.81,58.04 L603.87,58.14 L604.13,58.52 L604.38,58.91 L604.63,59.32 L604.88,59.73 L605.07,60.04 L605.14,60.15 L605.39,60.58 L605.64,61.02 L605.89,61.47 L606.14,61.93 L606.34,62.28 L606.40,62.40 L606.65,62.88 L606.90,63.37 L607.15,63.87 L607.41,64.37 L607.60,64.77 L607.66,64.89 L607.91,65.42 L608.16,65.96 L608.41,66.51 L608.67,67.07 L608.86,67.51 L608.92,67.64 L609.17,68.22 L609.42,68.81 L609.68,69.41 L609.93,70.03 L610.12,70.51 L610.18,70.65 L610.43,71.28 L610.68,71.92 L610.94,72.58 L611.19,73.24 L611.39,73.77 L611.44,73.91 L611.69,74.60 L611.95,75.29 L612.20,76.00 L612.45,76.72 L612.65,77.30 L612.70,77.44 L612.95,78.18 L613.21,78.93 L613.46,79.69 L613.71,80.46 L613.91,81.09 L613.96,81.24 L614.22,82.03 L614.47,82.83 L614.72,83.64 L614.97,84.47 L615.18,85.15 L615.22,85.30 L615.48,86.15 L615.73,87.00 L615.98,87.87 L616.23,88.74 L616.44,89.47 L616.49,89.63 L616.74,90.53 L616.99,91.44 L617.24,92.36 L617.49,93.29 L617.70,94.07 L617.75,94.23 L618.00,95.18 L618.25,96.14 L618.50,97.11 L618.75,98.09 L618.97,98.93 L619.01,99.09 L619.26,100.09 L619.51,101.11 L619.76,102.13 L620.02,103.17 L620.23,104.05 L620.27,104.21 L620.52,105.27 L620.77,106.34 L621.02,107.41 L621.28,108.50 L621.49,109.44 L621.53,109.60 L621.78,110.71 L622.03,111.83 L622.29,112.96 L622.54,114.10 L622.76,115.09 L622.79,115.25 L623.04,116.41 L623.29,117.58 L623.55,118.76 L623.80,119.95 L624.02,121.00 L624.05,121.15 L624.30,122.36 L624.56,123.58 L624.81,124.81 L625.06,126.06 L625.28,127.16 L625.31,127.31 L625.56,128.57 L625.82,129.84 L626.07,131.12 L626.32,132.41 L626.55,133.57 L626.57,133.72 L626.83,135.03 L627.08,136.35 L627.33,137.68 L627.58,139.02 L627.81,140.24 L627.83,140.37 L628.09,141.73 L628.34,143.10 L628.59,144.48 L628.84,145.87 L629.07,147.14 L629.10,147.27 L629.35,148.68 L629.60,150.10 L629.85,151.53 L630.10,152.97 L630.34,154.29 L630.36,154.41 L630.61,155.87 L630.86,157.34 L631.11,158.81 L631.37,160.30 L631.60,161.68 L631.62,161.79 L631.87,163.29 L632.12,164.81 L632.37,166.33 L632.63,167.86 L632.86,169.30 L632.88,169.40 L633.13,170.95 L633.38,172.51 L633.64,174.08 L633.89,175.66 L634.12,177.15 L634.14,177.24 L634.39,178.84 L634.64,180.44 L634.90,182.06 L635.15,183.68 L635.39,185.23 L635.40,185.31 L635.65,186.95 L635.91,188.60 L636.16,190.26 L636.41,191.93 L636.65,193.53 L636.66,193.60 L636.91,195.29 L637.17,196.98 L637.42,198.69 L637.67,200.40 L637.91,202.06 L637.92,202.12 L638.17,203.84 L638.43,205.58 L638.68,207.33 L638.93,209.08 L639.18,210.80 L639.18,210.85 L639.44,212.62 L639.69,214.40 L639.94,216.18 L640.19,217.98 L640.44,219.76 L640.44,219.79 L640.70,221.60 L640.95,223.42 L641.20,225.25 L641.45,227.09 L641.70,228.92 L641.71,228.94 L641.96,230.80 L642.21,232.66 L642.46,234.53 L642.71,236.41 L642.97,238.30" fill="none" stroke="#e02828" stroke-width="1.0"/>
<g stroke="#2e2e2e" stroke-width="1" fill="none"><line x1="30.40" y1="237.3" x2="30.40" y2="234.3" /><line x1="30.40" y1="14.6" x2="30.40" y2="17.6" /><line x1="72.83" y1="237.3" x2="72.83" y2="234.3" /><line x1="72.83" y1="14.6" x2="72.83" y2="17.6" /><line x1="115.26" y1="237.3" x2="115.26" y2="234.3" /><line x1="115.26" y1="14.6" x2="115.26" y2="17.6" /><line x1="157.69" y1="237.3" x2="157.69" y2="234.3" /><line x1="157.69" y1="14.6" x2="157.69" y2="17.6" /><line x1="200.11" y1="237.3" x2="200.11" y2="234.3" /><line x1="200.11" y1="14.6" x2="200.11" y2="17.6" /><line x1="242.54" y1="237.3" x2="242.54" y2="234.3" /><line x1="242.54" y1="14.6" x2="242.54" y2="17.6" /><line x1="284.97" y1="237.3" x2="284.97" y2="234.3" /><line x1="284.97" y1="14.6" x2="284.97" y2="17.6" /><line x1="327.40" y1="237.3" x2="327.40" y2="234.3" /><line x1="327.40" y1="14.6" x2="327.40" y2="17.6" /><line x1="30.4" y1="237.30" x2="33.4" y2="237.30" /><line x1="327.4" y1="237.30" x2="324.4" y2="237.30" /><line x1="30.4" y1="196.81" x2="33.4" y2="196.81" /><line x1="327.4" y1="196.81" x2="324.4" y2="196.81" /><line x1="30.4" y1="156.32" x2="33.4" y2="156.32" /><line x1="327.4" y1="156.32" x2="324.4" y2="156.32" /><line x1="30.4" y1="115.83" x2="33.4" y2="115.83" /><line x1="327.4" y1="115.83" x2="324.4" y2="115.83" /><line x1="30.4" y1="75.34" x2="33.4" y2="75.34" /><line x1="327.4" y1="75.34" x2="324.4" y2="75.34" /><line x1="30.4" y1="34.85" x2="33.4" y2="34.85" /><line x1="327.4" y1="34.85" x2="324.4" y2="34.85" /><rect x="30.4" y="14.6" width="297.00" height="222.70" fill="none"/></g>
<g stroke="#2e2e2e" stroke-width="1" fill="none"><line x1="391.60" y1="238.3" x2="391.60" y2="235.3" /><line x1="391.60" y1="19.4" x2="391.60" y2="22.4" /><line x1="432.59" y1="238.3" x2="432.59" y2="235.3" /><line x1="432.59" y1="19.4" x2="432.59" y2="22.4" /><line x1="473.57" y1="238.3" x2="473.57" y2="235.3" /><line x1="473.57" y1="19.4" x2="473.57" y2="22.4" /><line x1="514.56" y1="238.3" x2="514.56" y2="235.3" /><line x1="514.56" y1="19.4" x2="514.56" y2="22.4" /><line x1="555.54" y1="238.3" x2="555.54" y2="235.3" /><line x1="555.54" y1="19.4" x2="555.54" y2="22.4" /><line x1="596.53" y1="238.3" x2="596.53" y2="235.3" /><line x1="596.53" y1="19.4" x2="596.53" y2="22.4" /><line x1="637.51" y1="238.3" x2="637.51" y2="235.3" /><line x1="637.51" y1="19.4" x2="637.51" y2="22.4" /><line x1="678.50" y1="238.3" x2="678.50" y2="235.3" /><line x1="678.50" y1="19.4" x2="678.50" y2="22.4" /><line x1="391.6" y1="238.30" x2="394.6" y2="238.30" /><line x1="678.5" y1="238.30" x2="675.5" y2="238.30" /><line x1="391.6" y1="188.55" x2="394.6" y2="188.55" /><line x1="678.5" y1="188.55" x2="675.5" y2="188.55" /><line x1="391.6" y1="138.80" x2="394.6" y2="138.80" /><line x1="678.5" y1="138.80" x2="675.5" y2="138.80" /><line x1="391.6" y1="89.05" x2="394.6" y2="89.05" /><line x1="678.5" y1="89.05" x2="675.5" y2="89.05" /><line x1="391.6" y1="39.30" x2="394.6" y2="39.30" /><line x1="678.5" y1="39.30" x2="675.5" y2="39.30" /><rect x="391.6" y="19.4" width="286.90" height="218.90" fill="none"/></g>
<circle cx="30.3" cy="63.2" r="3.3" fill="none" stroke="#f00" stroke-width="1.9"/>
<circle cx="236.4" cy="79.0" r="3.3" fill="none" stroke="#f00" stroke-width="1.9"/>
<circle cx="289.85" cy="237.5" r="3.3" fill="none" stroke="#f00" stroke-width="1.9"/>
<circle cx="590.8" cy="48.6" r="3.2" fill="none" stroke="#ff2020" stroke-width="0.9"/>
<circle cx="592.6" cy="85.2" r="3.2" fill="none" stroke="#f030f0" stroke-width="0.9"/>
<circle cx="594.3" cy="122.2" r="3.2" fill="none" stroke="#f030f0" stroke-width="0.9"/>
<circle cx="594.1" cy="160.7" r="3.2" fill="none" stroke="#f030f0" stroke-width="0.9"/>
<circle cx="591.2" cy="200.0" r="3.2" fill="none" stroke="#f030f0" stroke-width="0.9"/>
<circle cx="391.5" cy="238.5" r="3.2" fill="none" stroke="#ff2020" stroke-width="0.9"/>
<circle cx="642.6" cy="238.4" r="3.2" fill="none" stroke="#ff2020" stroke-width="0.9"/>
</g>
<g filter="url(#bt)" font-family="Liberation Sans, sans-serif" stroke="#282828" stroke-width="0.0"><text transform="translate(30.50,250.7) scale(1,1.1)" font-size="9.6" text-anchor="middle" fill="#282828">0</text><text transform="translate(72.93,250.7) scale(1,1.1)" font-size="9.6" text-anchor="middle" fill="#282828">5</text><text transform="translate(115.36,250.7) scale(1,1.1)" font-size="9.6" text-anchor="middle" fill="#282828">10</text><text transform="translate(157.79,250.7) scale(1,1.1)" font-size="9.6" text-anchor="middle" fill="#282828">15</text><text transform="translate(200.21,250.7) scale(1,1.1)" font-size="9.6" text-anchor="middle" fill="#282828">20</text><text transform="translate(242.64,250.7) scale(1,1.1)" font-size="9.6" text-anchor="middle" fill="#282828">25</text><text transform="translate(285.07,250.7) scale(1,1.1)" font-size="9.6" text-anchor="middle" fill="#282828">30</text><text transform="translate(327.50,250.7) scale(1,1.1)" font-size="9.6" text-anchor="middle" fill="#282828">35</text><text transform="translate(27.9,241.50) scale(1,1.1)" font-size="9.6" text-anchor="end" fill="#282828">0</text><text transform="translate(27.9,201.01) scale(1,1.1)" font-size="9.6" text-anchor="end" fill="#282828">2</text><text transform="translate(27.9,160.52) scale(1,1.1)" font-size="9.6" text-anchor="end" fill="#282828">4</text><text transform="translate(27.9,120.03) scale(1,1.1)" font-size="9.6" text-anchor="end" fill="#282828">6</text><text transform="translate(27.9,79.54) scale(1,1.1)" font-size="9.6" text-anchor="end" fill="#282828">8</text><text transform="translate(27.9,39.05) scale(1,1.1)" font-size="9.6" text-anchor="end" fill="#282828">10</text><text transform="translate(391.70,250.5) scale(1,1.1)" font-size="8.8" text-anchor="middle" fill="#282828">0</text><text transform="translate(432.69,250.5) scale(1,1.1)" font-size="8.8" text-anchor="middle" fill="#282828">5</text><text transform="translate(473.67,250.5) scale(1,1.1)" font-size="8.8" text-anchor="middle" fill="#282828">10</text><text transform="translate(514.66,250.5) scale(1,1.1)" font-size="8.8" text-anchor="middle" fill="#282828">15</text><text transform="translate(555.64,250.5) scale(1,1.1)" font-size="8.8" text-anchor="middle" fill="#282828">20</text><text transform="translate(596.63,250.5) scale(1,1.1)" font-size="8.8" text-anchor="middle" fill="#282828">25</text><text transform="translate(637.61,250.5) scale(1,1.1)" font-size="8.8" text-anchor="middle" fill="#282828">30</text><text transform="translate(678.60,250.5) scale(1,1.1)" font-size="8.8" text-anchor="middle" fill="#282828">35</text><text transform="translate(388.2,242.20) scale(1,1.1)" font-size="8.8" text-anchor="end" fill="#282828">0</text><text transform="translate(388.2,192.45) scale(1,1.1)" font-size="8.8" text-anchor="end" fill="#282828">50</text><text transform="translate(388.2,142.70) scale(1,1.1)" font-size="8.8" text-anchor="end" fill="#282828">100</text><text transform="translate(388.2,92.95) scale(1,1.1)" font-size="8.8" text-anchor="end" fill="#282828">150</text><text transform="translate(388.2,43.20) scale(1,1.1)" font-size="8.8" text-anchor="end" fill="#282828">200</text><text x="179.0" y="10.6" font-size="10.3" text-anchor="middle" fill="#282828" textLength="80.2" lengthAdjust="spacingAndGlyphs">I-V characteristic</text><text x="535.2" y="15.3" font-size="9.9" text-anchor="middle" fill="#282828" textLength="77.4" lengthAdjust="spacingAndGlyphs">P-V characteristic</text><text x="179.2" y="264.2" font-size="10.3" text-anchor="middle" fill="#282828" textLength="54.4" lengthAdjust="spacingAndGlyphs">Voltage (V)</text><text x="535.6" y="262.9" font-size="9.8" text-anchor="middle" fill="#282828" textLength="48.8" lengthAdjust="spacingAndGlyphs">Voltage (V)</text><text transform="translate(12.2,123.45) rotate(-90)" font-size="10.2" text-anchor="middle" fill="#282828" textLength="49.7" lengthAdjust="spacingAndGlyphs">Current (A)</text><text transform="translate(371.0,125.6) rotate(-90)" font-size="10" text-anchor="middle" fill="#282828" textLength="46.4" lengthAdjust="spacingAndGlyphs">Power (W)</text><text transform="translate(276.1,40.0) scale(1.1,1)" font-size="10.4" fill="#e5141c" stroke="#e5141c" stroke-width="0.1">1 kW/m<tspan dy="-5.3" font-size="8.5">2</tspan></text><text transform="translate(267.6,59.7) scale(1.1,1)" font-size="10.4" fill="#d2652c" stroke="#d2652c" stroke-width="0.1">0.8 kW/m<tspan dy="-5.3" font-size="8.5">2</tspan></text><text transform="translate(267.6,77.9) scale(1.1,1)" font-size="10.4" fill="#a640f5" stroke="#a640f5" stroke-width="0.1">0.6 kW/m<tspan dy="-5.3" font-size="8.5">2</tspan></text><text transform="translate(267.0,95.0) scale(1.1,1)" font-size="10.4" fill="#50c020" stroke="#50c020" stroke-width="0.1">0.4 kW/m<tspan dy="-5.3" font-size="8.5">2</tspan></text><text transform="translate(266.6,113.1) scale(1.1,1)" font-size="10.4" fill="#1a92e4" stroke="#1a92e4" stroke-width="0.1">0.2 kW/m<tspan dy="-5.3" font-size="8.5">2</tspan></text><text transform="translate(637.1,45.6) scale(0.955,1)" font-size="9.9" fill="#e5141c" stroke="#e5141c" stroke-width="0">1 kW/m<tspan dy="-4.3" font-size="8.3">2</tspan></text><text transform="translate(627.4,63.1) scale(0.955,1)" font-size="9.9" fill="#d2652c" stroke="#d2652c" stroke-width="0">0.8 kW/m<tspan dy="-4.3" font-size="8.3">2</tspan></text><text transform="translate(628.1,80.7) scale(0.955,1)" font-size="9.9" fill="#a640f5" stroke="#a640f5" stroke-width="0">0.6 kW/m<tspan dy="-4.3" font-size="8.3">2</tspan></text><text transform="translate(628.1,98.3) scale(0.955,1)" font-size="9.9" fill="#50c020" stroke="#50c020" stroke-width="0">0.4 kW/m<tspan dy="-4.3" font-size="8.3">2</tspan></text><text transform="translate(628.6,115.1) scale(0.955,1)" font-size="9.9" fill="#1a92e4" stroke="#1a92e4" stroke-width="0">0.2 kW/m<tspan dy="-4.3" font-size="8.3">2</tspan></text></g>
</svg>
</body></html>
